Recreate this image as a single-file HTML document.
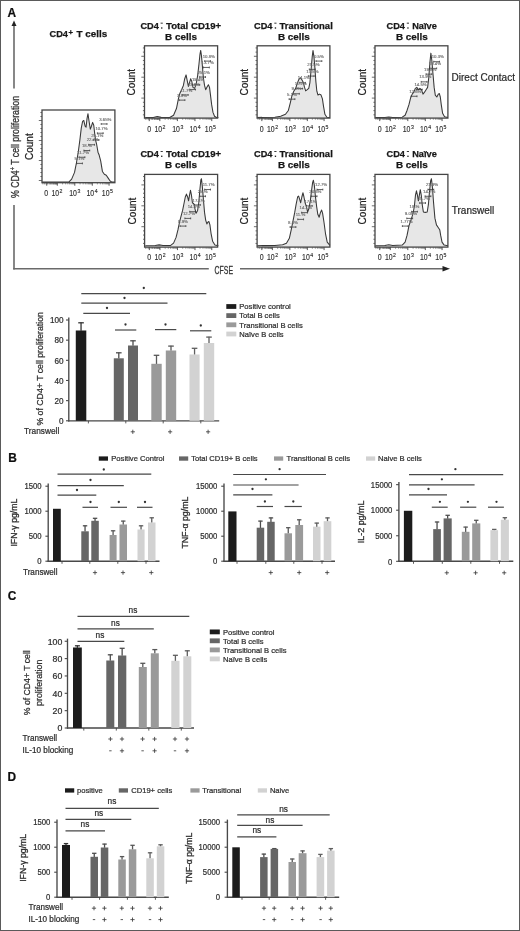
<!DOCTYPE html>
<html><head><meta charset="utf-8"><title>Figure</title>
<style>
html,body{margin:0;padding:0;background:#fff;}
body{width:520px;height:931px;overflow:hidden;font-family:"Liberation Sans",sans-serif;}
svg{display:block;font-family:"Liberation Sans",sans-serif;filter:grayscale(1);}
</style></head><body>
<svg width="520" height="931" viewBox="0 0 520 931">
<rect x="0" y="0" width="520" height="931" fill="#ffffff"/>
<defs><filter id="soft" x="0" y="0" width="520" height="931" filterUnits="userSpaceOnUse"><feGaussianBlur stdDeviation="0.32"/></filter></defs><g filter="url(#soft)">
<text x="7.6" y="17.2" font-size="11.9" text-anchor="start" font-weight="bold" fill="#111" stroke="#111" stroke-width="0.22">A</text>
<line x1="14" y1="25" x2="14" y2="88.6" stroke="#6a6a6a" stroke-width="1.6"/>
<line x1="14" y1="205" x2="14" y2="269.4" stroke="#6a6a6a" stroke-width="1.6"/>
<path d="M14 20.4 L16.5 26 L11.5 26 Z" fill="#222"/>
<text transform="translate(18.8,198) rotate(-90)" font-size="10.3" fill="#333" stroke="#333" stroke-width="0.3" textLength="102" lengthAdjust="spacingAndGlyphs">% CD4<tspan font-size="6.5" dy="-3.4">+</tspan><tspan dy="3.4"> T cell proliferation</tspan></text>
<line x1="13.2" y1="268.7" x2="208.8" y2="268.7" stroke="#6a6a6a" stroke-width="1.6"/>
<line x1="240" y1="268.7" x2="444" y2="268.7" stroke="#6a6a6a" stroke-width="1.6"/>
<path d="M450 268.8 L442.5 266.1 L442.5 271.5 Z" fill="#222"/>
<text x="214.6" y="274" font-size="10.4" fill="#333" stroke="#333" stroke-width="0.3" textLength="18.4" lengthAdjust="spacingAndGlyphs">CFSE</text>
<text x="49.5" y="37.3" font-size="9.9" font-weight="bold" fill="#161616" stroke="#161616" stroke-width="0.25" textLength="18.4" lengthAdjust="spacingAndGlyphs">CD4</text>
<text x="68.5" y="34.6" font-size="7.6" font-weight="bold" fill="#161616" stroke="#161616" stroke-width="0.25">+</text>
<text x="76.5" y="37.3" font-size="9.9" font-weight="bold" fill="#161616" stroke="#161616" stroke-width="0.25" textLength="30.7" lengthAdjust="spacingAndGlyphs">T cells</text>
<path d="M42.22 182.1 L68.76 182.1 L71.65 179.11 L74.53 172.38 L76.45 162.76 L78.38 151.22 L79.92 139.68 L81.26 128.15 L82.61 121.42 L83.76 120.45 L85.11 126.22 L86.07 127.18 L87.03 118.53 L87.99 113.72 L88.95 120.45 L90.3 129.11 L91.45 126.22 L92.61 122.38 L93.76 125.26 L94.72 133.92 L95.68 140.65 L96.65 144.49 L97.99 152.18 L99.15 155.07 L100.68 160.84 L102.42 171.42 L104.34 174.3 L106.26 175.26 L108.18 178.15 L110.11 181.03 L112.03 182.1 L114.92 182.1 L114.9 182.7 L42 182.7 Z" fill="#e7e7e7" stroke="none"/>
<path d="M42.22 182.1 L68.76 182.1 L71.65 179.11 L74.53 172.38 L76.45 162.76 L78.38 151.22 L79.92 139.68 L81.26 128.15 L82.61 121.42 L83.76 120.45 L85.11 126.22 L86.07 127.18 L87.03 118.53 L87.99 113.72 L88.95 120.45 L90.3 129.11 L91.45 126.22 L92.61 122.38 L93.76 125.26 L94.72 133.92 L95.68 140.65 L96.65 144.49 L97.99 152.18 L99.15 155.07 L100.68 160.84 L102.42 171.42 L104.34 174.3 L106.26 175.26 L108.18 178.15 L110.11 181.03 L112.03 182.1 L114.92 182.1" fill="none" stroke="#383838" stroke-width="1.05" stroke-linejoin="round"/>
<text x="99.23" y="120.58" font-size="4.3" fill="#6e6e6e" stroke="#6e6e6e" stroke-width="0.15">3.65%</text>
<line x1="101.23" y1="123.98" x2="107.03" y2="123.98" stroke="#3a3a3a" stroke-width="0.8"/>
<line x1="101.23" y1="123.08" x2="101.23" y2="124.88" stroke="#3a3a3a" stroke-width="0.8"/>
<line x1="107.03" y1="123.08" x2="107.03" y2="124.88" stroke="#3a3a3a" stroke-width="0.8"/>
<text x="95.38" y="129.81" font-size="4.3" fill="#6e6e6e" stroke="#6e6e6e" stroke-width="0.15">10.7%</text>
<line x1="97.38" y1="133.21" x2="103.18" y2="133.21" stroke="#3a3a3a" stroke-width="0.8"/>
<line x1="97.38" y1="132.31" x2="97.38" y2="134.11" stroke="#3a3a3a" stroke-width="0.8"/>
<line x1="103.18" y1="132.31" x2="103.18" y2="134.11" stroke="#3a3a3a" stroke-width="0.8"/>
<text x="91.15" y="136.54" font-size="4.3" fill="#6e6e6e" stroke="#6e6e6e" stroke-width="0.15">25.1%</text>
<line x1="93.15" y1="139.94" x2="98.95" y2="139.94" stroke="#3a3a3a" stroke-width="0.8"/>
<line x1="93.15" y1="139.04" x2="93.15" y2="140.84" stroke="#3a3a3a" stroke-width="0.8"/>
<line x1="98.95" y1="139.04" x2="98.95" y2="140.84" stroke="#3a3a3a" stroke-width="0.8"/>
<text x="86.73" y="141.35" font-size="4.3" fill="#6e6e6e" stroke="#6e6e6e" stroke-width="0.15">22.7%</text>
<line x1="88.73" y1="144.75" x2="94.53" y2="144.75" stroke="#3a3a3a" stroke-width="0.8"/>
<line x1="88.73" y1="143.85" x2="88.73" y2="145.65" stroke="#3a3a3a" stroke-width="0.8"/>
<line x1="94.53" y1="143.85" x2="94.53" y2="145.65" stroke="#3a3a3a" stroke-width="0.8"/>
<text x="81.92" y="147.12" font-size="4.3" fill="#6e6e6e" stroke="#6e6e6e" stroke-width="0.15">18.%</text>
<line x1="83.92" y1="150.52" x2="89.72" y2="150.52" stroke="#3a3a3a" stroke-width="0.8"/>
<line x1="83.92" y1="149.62" x2="83.92" y2="151.42" stroke="#3a3a3a" stroke-width="0.8"/>
<line x1="89.72" y1="149.62" x2="89.72" y2="151.42" stroke="#3a3a3a" stroke-width="0.8"/>
<text x="77.12" y="153.85" font-size="4.3" fill="#6e6e6e" stroke="#6e6e6e" stroke-width="0.15">11.7%</text>
<line x1="79.12" y1="157.25" x2="84.92" y2="157.25" stroke="#3a3a3a" stroke-width="0.8"/>
<line x1="79.12" y1="156.35" x2="79.12" y2="158.15" stroke="#3a3a3a" stroke-width="0.8"/>
<line x1="84.92" y1="156.35" x2="84.92" y2="158.15" stroke="#3a3a3a" stroke-width="0.8"/>
<text x="74.62" y="160" font-size="4.3" fill="#6e6e6e" stroke="#6e6e6e" stroke-width="0.15">5.1%</text>
<line x1="76.62" y1="163.4" x2="82.42" y2="163.4" stroke="#3a3a3a" stroke-width="0.8"/>
<line x1="76.62" y1="162.5" x2="76.62" y2="164.3" stroke="#3a3a3a" stroke-width="0.8"/>
<line x1="82.42" y1="162.5" x2="82.42" y2="164.3" stroke="#3a3a3a" stroke-width="0.8"/>
<rect x="42" y="110" width="72.9" height="72.7" fill="none" stroke="#454545" stroke-width="1.3"/>
<line x1="40.4" y1="112.5" x2="42" y2="112.5" stroke="#4a4a4a" stroke-width="0.8"/>
<line x1="40.4" y1="116.5" x2="42" y2="116.5" stroke="#4a4a4a" stroke-width="0.8"/>
<line x1="38.8" y1="120.5" x2="42" y2="120.5" stroke="#4a4a4a" stroke-width="0.8"/>
<line x1="40.4" y1="124.5" x2="42" y2="124.5" stroke="#4a4a4a" stroke-width="0.8"/>
<line x1="40.4" y1="128.5" x2="42" y2="128.5" stroke="#4a4a4a" stroke-width="0.8"/>
<line x1="40.4" y1="132.5" x2="42" y2="132.5" stroke="#4a4a4a" stroke-width="0.8"/>
<line x1="40.4" y1="136.5" x2="42" y2="136.5" stroke="#4a4a4a" stroke-width="0.8"/>
<line x1="38.8" y1="140.5" x2="42" y2="140.5" stroke="#4a4a4a" stroke-width="0.8"/>
<line x1="40.4" y1="144.5" x2="42" y2="144.5" stroke="#4a4a4a" stroke-width="0.8"/>
<line x1="40.4" y1="148.5" x2="42" y2="148.5" stroke="#4a4a4a" stroke-width="0.8"/>
<line x1="40.4" y1="152.5" x2="42" y2="152.5" stroke="#4a4a4a" stroke-width="0.8"/>
<line x1="40.4" y1="156.5" x2="42" y2="156.5" stroke="#4a4a4a" stroke-width="0.8"/>
<line x1="38.8" y1="160.5" x2="42" y2="160.5" stroke="#4a4a4a" stroke-width="0.8"/>
<line x1="40.4" y1="164.5" x2="42" y2="164.5" stroke="#4a4a4a" stroke-width="0.8"/>
<line x1="40.4" y1="168.5" x2="42" y2="168.5" stroke="#4a4a4a" stroke-width="0.8"/>
<line x1="40.4" y1="172.5" x2="42" y2="172.5" stroke="#4a4a4a" stroke-width="0.8"/>
<line x1="40.4" y1="176.5" x2="42" y2="176.5" stroke="#4a4a4a" stroke-width="0.8"/>
<line x1="38.8" y1="180.5" x2="42" y2="180.5" stroke="#4a4a4a" stroke-width="0.8"/>
<line x1="46.74" y1="182.7" x2="46.74" y2="185.7" stroke="#444" stroke-width="0.9"/>
<line x1="57.31" y1="182.7" x2="57.31" y2="185.7" stroke="#444" stroke-width="0.9"/>
<line x1="74.81" y1="182.7" x2="74.81" y2="185.7" stroke="#444" stroke-width="0.9"/>
<line x1="92.3" y1="182.7" x2="92.3" y2="185.7" stroke="#444" stroke-width="0.9"/>
<line x1="109.07" y1="182.7" x2="109.07" y2="185.7" stroke="#444" stroke-width="0.9"/>
<line x1="49.92" y1="182.7" x2="49.92" y2="184.4" stroke="#505050" stroke-width="0.6"/>
<line x1="51.78" y1="182.7" x2="51.78" y2="184.4" stroke="#505050" stroke-width="0.6"/>
<line x1="53.1" y1="182.7" x2="53.1" y2="184.4" stroke="#505050" stroke-width="0.6"/>
<line x1="54.13" y1="182.7" x2="54.13" y2="184.4" stroke="#505050" stroke-width="0.6"/>
<line x1="54.96" y1="182.7" x2="54.96" y2="184.4" stroke="#505050" stroke-width="0.6"/>
<line x1="55.67" y1="182.7" x2="55.67" y2="184.4" stroke="#505050" stroke-width="0.6"/>
<line x1="56.28" y1="182.7" x2="56.28" y2="184.4" stroke="#505050" stroke-width="0.6"/>
<line x1="56.83" y1="182.7" x2="56.83" y2="184.4" stroke="#505050" stroke-width="0.6"/>
<line x1="62.58" y1="182.7" x2="62.58" y2="184.4" stroke="#505050" stroke-width="0.6"/>
<line x1="65.66" y1="182.7" x2="65.66" y2="184.4" stroke="#505050" stroke-width="0.6"/>
<line x1="67.84" y1="182.7" x2="67.84" y2="184.4" stroke="#505050" stroke-width="0.6"/>
<line x1="69.54" y1="182.7" x2="69.54" y2="184.4" stroke="#505050" stroke-width="0.6"/>
<line x1="70.92" y1="182.7" x2="70.92" y2="184.4" stroke="#505050" stroke-width="0.6"/>
<line x1="72.09" y1="182.7" x2="72.09" y2="184.4" stroke="#505050" stroke-width="0.6"/>
<line x1="73.11" y1="182.7" x2="73.11" y2="184.4" stroke="#505050" stroke-width="0.6"/>
<line x1="74" y1="182.7" x2="74" y2="184.4" stroke="#505050" stroke-width="0.6"/>
<line x1="80.07" y1="182.7" x2="80.07" y2="184.4" stroke="#505050" stroke-width="0.6"/>
<line x1="83.15" y1="182.7" x2="83.15" y2="184.4" stroke="#505050" stroke-width="0.6"/>
<line x1="85.34" y1="182.7" x2="85.34" y2="184.4" stroke="#505050" stroke-width="0.6"/>
<line x1="87.03" y1="182.7" x2="87.03" y2="184.4" stroke="#505050" stroke-width="0.6"/>
<line x1="88.42" y1="182.7" x2="88.42" y2="184.4" stroke="#505050" stroke-width="0.6"/>
<line x1="89.59" y1="182.7" x2="89.59" y2="184.4" stroke="#505050" stroke-width="0.6"/>
<line x1="90.61" y1="182.7" x2="90.61" y2="184.4" stroke="#505050" stroke-width="0.6"/>
<line x1="91.5" y1="182.7" x2="91.5" y2="184.4" stroke="#505050" stroke-width="0.6"/>
<line x1="97.35" y1="182.7" x2="97.35" y2="184.4" stroke="#505050" stroke-width="0.6"/>
<line x1="100.3" y1="182.7" x2="100.3" y2="184.4" stroke="#505050" stroke-width="0.6"/>
<line x1="102.4" y1="182.7" x2="102.4" y2="184.4" stroke="#505050" stroke-width="0.6"/>
<line x1="104.02" y1="182.7" x2="104.02" y2="184.4" stroke="#505050" stroke-width="0.6"/>
<line x1="105.35" y1="182.7" x2="105.35" y2="184.4" stroke="#505050" stroke-width="0.6"/>
<line x1="106.47" y1="182.7" x2="106.47" y2="184.4" stroke="#505050" stroke-width="0.6"/>
<line x1="107.44" y1="182.7" x2="107.44" y2="184.4" stroke="#505050" stroke-width="0.6"/>
<line x1="108.3" y1="182.7" x2="108.3" y2="184.4" stroke="#505050" stroke-width="0.6"/>
<line x1="42.87" y1="182.7" x2="42.87" y2="184.4" stroke="#505050" stroke-width="0.6"/>
<line x1="44.41" y1="182.7" x2="44.41" y2="184.4" stroke="#505050" stroke-width="0.6"/>
<line x1="45.94" y1="182.7" x2="45.94" y2="184.4" stroke="#505050" stroke-width="0.6"/>
<line x1="47.47" y1="182.7" x2="47.47" y2="184.4" stroke="#505050" stroke-width="0.6"/>
<line x1="49" y1="182.7" x2="49" y2="184.4" stroke="#505050" stroke-width="0.6"/>
<line x1="50.53" y1="182.7" x2="50.53" y2="184.4" stroke="#505050" stroke-width="0.6"/>
<line x1="52.06" y1="182.7" x2="52.06" y2="184.4" stroke="#505050" stroke-width="0.6"/>
<line x1="53.59" y1="182.7" x2="53.59" y2="184.4" stroke="#505050" stroke-width="0.6"/>
<line x1="55.12" y1="182.7" x2="55.12" y2="184.4" stroke="#505050" stroke-width="0.6"/>
<line x1="56.65" y1="182.7" x2="56.65" y2="184.4" stroke="#505050" stroke-width="0.6"/>
<text x="46.2" y="195.9" font-size="8.4" fill="#303030" stroke="#303030" stroke-width="0.15" text-anchor="middle" textLength="3.9" lengthAdjust="spacingAndGlyphs">0</text>
<text x="51.4" y="195.9" font-size="8.4" fill="#303030" stroke="#303030" stroke-width="0.15" textLength="7.7" lengthAdjust="spacingAndGlyphs">10</text>
<text x="59.6" y="192.6" font-size="5.6" fill="#303030" stroke="#303030" stroke-width="0.15" textLength="2.9" lengthAdjust="spacingAndGlyphs">2</text>
<text x="69.2" y="195.9" font-size="8.4" fill="#303030" stroke="#303030" stroke-width="0.15" textLength="7.7" lengthAdjust="spacingAndGlyphs">10</text>
<text x="77.4" y="192.6" font-size="5.6" fill="#303030" stroke="#303030" stroke-width="0.15" textLength="2.9" lengthAdjust="spacingAndGlyphs">3</text>
<text x="86.5" y="195.9" font-size="8.4" fill="#303030" stroke="#303030" stroke-width="0.15" textLength="7.7" lengthAdjust="spacingAndGlyphs">10</text>
<text x="94.7" y="192.6" font-size="5.6" fill="#303030" stroke="#303030" stroke-width="0.15" textLength="2.9" lengthAdjust="spacingAndGlyphs">4</text>
<text x="101.8" y="195.9" font-size="8.4" fill="#303030" stroke="#303030" stroke-width="0.15" textLength="7.7" lengthAdjust="spacingAndGlyphs">10</text>
<text x="110" y="192.6" font-size="5.6" fill="#303030" stroke="#303030" stroke-width="0.15" textLength="2.9" lengthAdjust="spacingAndGlyphs">5</text>
<text x="0" y="0" transform="translate(32.9,146.65) rotate(-90)" font-size="10" text-anchor="middle" font-weight="normal" fill="#222" stroke="#222" stroke-width="0.22">Count</text>
<path d="M145.3 117.5 L153.38 117.5 L157.22 116.61 L161.07 117.38 L169.72 117.5 L173.57 115.26 L176.45 108.53 L178.38 98.92 L179.92 93.15 L181.84 89.3 L183.38 85.45 L184.72 78.72 L186.07 74.88 L187.22 80.65 L188.38 86.42 L189.53 82.57 L190.68 78.72 L191.84 81.61 L192.99 87.38 L194.53 88.34 L196.07 84.49 L197.61 75.84 L198.95 64.3 L199.92 54.68 L200.68 50.45 L201.45 55.65 L202.42 66.22 L203.38 77.76 L204.53 85.45 L205.68 89.68 L207.03 86.99 L208.38 84.68 L209.53 87.38 L210.49 95.07 L211.65 104.68 L212.99 112.38 L214.53 116.22 L216.45 117.5 L218.38 117.5 L217.6 118.1 L144.5 118.1 Z" fill="#e7e7e7" stroke="none"/>
<path d="M145.3 117.5 L153.38 117.5 L157.22 116.61 L161.07 117.38 L169.72 117.5 L173.57 115.26 L176.45 108.53 L178.38 98.92 L179.92 93.15 L181.84 89.3 L183.38 85.45 L184.72 78.72 L186.07 74.88 L187.22 80.65 L188.38 86.42 L189.53 82.57 L190.68 78.72 L191.84 81.61 L192.99 87.38 L194.53 88.34 L196.07 84.49 L197.61 75.84 L198.95 64.3 L199.92 54.68 L200.68 50.45 L201.45 55.65 L202.42 66.22 L203.38 77.76 L204.53 85.45 L205.68 89.68 L207.03 86.99 L208.38 84.68 L209.53 87.38 L210.49 95.07 L211.65 104.68 L212.99 112.38 L214.53 116.22 L216.45 117.5 L218.38 117.5" fill="none" stroke="#383838" stroke-width="1.05" stroke-linejoin="round"/>
<text x="202.69" y="57.69" font-size="4.3" fill="#6e6e6e" stroke="#6e6e6e" stroke-width="0.15">10.8%</text>
<line x1="204.69" y1="61.09" x2="210.49" y2="61.09" stroke="#3a3a3a" stroke-width="0.8"/>
<line x1="204.69" y1="60.19" x2="204.69" y2="61.99" stroke="#3a3a3a" stroke-width="0.8"/>
<line x1="210.49" y1="60.19" x2="210.49" y2="61.99" stroke="#3a3a3a" stroke-width="0.8"/>
<text x="201.54" y="64.04" font-size="4.3" fill="#6e6e6e" stroke="#6e6e6e" stroke-width="0.15">13.7%</text>
<line x1="203.54" y1="67.44" x2="209.34" y2="67.44" stroke="#3a3a3a" stroke-width="0.8"/>
<line x1="203.54" y1="66.54" x2="203.54" y2="68.34" stroke="#3a3a3a" stroke-width="0.8"/>
<line x1="209.34" y1="66.54" x2="209.34" y2="68.34" stroke="#3a3a3a" stroke-width="0.8"/>
<text x="197.69" y="73.65" font-size="4.3" fill="#6e6e6e" stroke="#6e6e6e" stroke-width="0.15">25.1%</text>
<line x1="199.69" y1="77.05" x2="205.49" y2="77.05" stroke="#3a3a3a" stroke-width="0.8"/>
<line x1="199.69" y1="76.15" x2="199.69" y2="77.95" stroke="#3a3a3a" stroke-width="0.8"/>
<line x1="205.49" y1="76.15" x2="205.49" y2="77.95" stroke="#3a3a3a" stroke-width="0.8"/>
<text x="191.92" y="81.35" font-size="4.3" fill="#6e6e6e" stroke="#6e6e6e" stroke-width="0.15">19.4%</text>
<line x1="193.92" y1="84.75" x2="199.72" y2="84.75" stroke="#3a3a3a" stroke-width="0.8"/>
<line x1="193.92" y1="83.85" x2="193.92" y2="85.65" stroke="#3a3a3a" stroke-width="0.8"/>
<line x1="199.72" y1="83.85" x2="199.72" y2="85.65" stroke="#3a3a3a" stroke-width="0.8"/>
<text x="187.69" y="86.15" font-size="4.3" fill="#6e6e6e" stroke="#6e6e6e" stroke-width="0.15">13.9%</text>
<line x1="189.69" y1="89.55" x2="195.49" y2="89.55" stroke="#3a3a3a" stroke-width="0.8"/>
<line x1="189.69" y1="88.65" x2="189.69" y2="90.45" stroke="#3a3a3a" stroke-width="0.8"/>
<line x1="195.49" y1="88.65" x2="195.49" y2="90.45" stroke="#3a3a3a" stroke-width="0.8"/>
<text x="180.38" y="91.54" font-size="4.3" fill="#6e6e6e" stroke="#6e6e6e" stroke-width="0.15">11.7%</text>
<line x1="182.38" y1="94.94" x2="188.18" y2="94.94" stroke="#3a3a3a" stroke-width="0.8"/>
<line x1="182.38" y1="94.04" x2="182.38" y2="95.84" stroke="#3a3a3a" stroke-width="0.8"/>
<line x1="188.18" y1="94.04" x2="188.18" y2="95.84" stroke="#3a3a3a" stroke-width="0.8"/>
<text x="177.12" y="96.73" font-size="4.3" fill="#6e6e6e" stroke="#6e6e6e" stroke-width="0.15">3.8%</text>
<line x1="179.12" y1="100.13" x2="184.92" y2="100.13" stroke="#3a3a3a" stroke-width="0.8"/>
<line x1="179.12" y1="99.23" x2="179.12" y2="101.03" stroke="#3a3a3a" stroke-width="0.8"/>
<line x1="184.92" y1="99.23" x2="184.92" y2="101.03" stroke="#3a3a3a" stroke-width="0.8"/>
<rect x="144.5" y="45.8" width="73.1" height="72.3" fill="none" stroke="#454545" stroke-width="1.3"/>
<line x1="142.9" y1="47.94" x2="144.5" y2="47.94" stroke="#4a4a4a" stroke-width="0.8"/>
<line x1="142.9" y1="52.12" x2="144.5" y2="52.12" stroke="#4a4a4a" stroke-width="0.8"/>
<line x1="141.3" y1="56.3" x2="144.5" y2="56.3" stroke="#4a4a4a" stroke-width="0.8"/>
<line x1="142.9" y1="60.48" x2="144.5" y2="60.48" stroke="#4a4a4a" stroke-width="0.8"/>
<line x1="142.9" y1="64.66" x2="144.5" y2="64.66" stroke="#4a4a4a" stroke-width="0.8"/>
<line x1="142.9" y1="68.84" x2="144.5" y2="68.84" stroke="#4a4a4a" stroke-width="0.8"/>
<line x1="142.9" y1="73.02" x2="144.5" y2="73.02" stroke="#4a4a4a" stroke-width="0.8"/>
<line x1="141.3" y1="77.2" x2="144.5" y2="77.2" stroke="#4a4a4a" stroke-width="0.8"/>
<line x1="142.9" y1="81.38" x2="144.5" y2="81.38" stroke="#4a4a4a" stroke-width="0.8"/>
<line x1="142.9" y1="85.56" x2="144.5" y2="85.56" stroke="#4a4a4a" stroke-width="0.8"/>
<line x1="142.9" y1="89.74" x2="144.5" y2="89.74" stroke="#4a4a4a" stroke-width="0.8"/>
<line x1="142.9" y1="93.92" x2="144.5" y2="93.92" stroke="#4a4a4a" stroke-width="0.8"/>
<line x1="141.3" y1="98.1" x2="144.5" y2="98.1" stroke="#4a4a4a" stroke-width="0.8"/>
<line x1="142.9" y1="102.28" x2="144.5" y2="102.28" stroke="#4a4a4a" stroke-width="0.8"/>
<line x1="142.9" y1="106.46" x2="144.5" y2="106.46" stroke="#4a4a4a" stroke-width="0.8"/>
<line x1="142.9" y1="110.64" x2="144.5" y2="110.64" stroke="#4a4a4a" stroke-width="0.8"/>
<line x1="142.9" y1="114.82" x2="144.5" y2="114.82" stroke="#4a4a4a" stroke-width="0.8"/>
<line x1="149.25" y1="118.1" x2="149.25" y2="121.1" stroke="#444" stroke-width="0.9"/>
<line x1="159.85" y1="118.1" x2="159.85" y2="121.1" stroke="#444" stroke-width="0.9"/>
<line x1="177.39" y1="118.1" x2="177.39" y2="121.1" stroke="#444" stroke-width="0.9"/>
<line x1="194.94" y1="118.1" x2="194.94" y2="121.1" stroke="#444" stroke-width="0.9"/>
<line x1="211.75" y1="118.1" x2="211.75" y2="121.1" stroke="#444" stroke-width="0.9"/>
<line x1="152.44" y1="118.1" x2="152.44" y2="119.8" stroke="#505050" stroke-width="0.6"/>
<line x1="154.31" y1="118.1" x2="154.31" y2="119.8" stroke="#505050" stroke-width="0.6"/>
<line x1="155.63" y1="118.1" x2="155.63" y2="119.8" stroke="#505050" stroke-width="0.6"/>
<line x1="156.66" y1="118.1" x2="156.66" y2="119.8" stroke="#505050" stroke-width="0.6"/>
<line x1="157.5" y1="118.1" x2="157.5" y2="119.8" stroke="#505050" stroke-width="0.6"/>
<line x1="158.21" y1="118.1" x2="158.21" y2="119.8" stroke="#505050" stroke-width="0.6"/>
<line x1="158.82" y1="118.1" x2="158.82" y2="119.8" stroke="#505050" stroke-width="0.6"/>
<line x1="159.37" y1="118.1" x2="159.37" y2="119.8" stroke="#505050" stroke-width="0.6"/>
<line x1="165.13" y1="118.1" x2="165.13" y2="119.8" stroke="#505050" stroke-width="0.6"/>
<line x1="168.22" y1="118.1" x2="168.22" y2="119.8" stroke="#505050" stroke-width="0.6"/>
<line x1="170.41" y1="118.1" x2="170.41" y2="119.8" stroke="#505050" stroke-width="0.6"/>
<line x1="172.11" y1="118.1" x2="172.11" y2="119.8" stroke="#505050" stroke-width="0.6"/>
<line x1="173.5" y1="118.1" x2="173.5" y2="119.8" stroke="#505050" stroke-width="0.6"/>
<line x1="174.68" y1="118.1" x2="174.68" y2="119.8" stroke="#505050" stroke-width="0.6"/>
<line x1="175.69" y1="118.1" x2="175.69" y2="119.8" stroke="#505050" stroke-width="0.6"/>
<line x1="176.59" y1="118.1" x2="176.59" y2="119.8" stroke="#505050" stroke-width="0.6"/>
<line x1="182.68" y1="118.1" x2="182.68" y2="119.8" stroke="#505050" stroke-width="0.6"/>
<line x1="185.77" y1="118.1" x2="185.77" y2="119.8" stroke="#505050" stroke-width="0.6"/>
<line x1="187.96" y1="118.1" x2="187.96" y2="119.8" stroke="#505050" stroke-width="0.6"/>
<line x1="189.66" y1="118.1" x2="189.66" y2="119.8" stroke="#505050" stroke-width="0.6"/>
<line x1="191.05" y1="118.1" x2="191.05" y2="119.8" stroke="#505050" stroke-width="0.6"/>
<line x1="192.22" y1="118.1" x2="192.22" y2="119.8" stroke="#505050" stroke-width="0.6"/>
<line x1="193.24" y1="118.1" x2="193.24" y2="119.8" stroke="#505050" stroke-width="0.6"/>
<line x1="194.14" y1="118.1" x2="194.14" y2="119.8" stroke="#505050" stroke-width="0.6"/>
<line x1="200" y1="118.1" x2="200" y2="119.8" stroke="#505050" stroke-width="0.6"/>
<line x1="202.96" y1="118.1" x2="202.96" y2="119.8" stroke="#505050" stroke-width="0.6"/>
<line x1="205.06" y1="118.1" x2="205.06" y2="119.8" stroke="#505050" stroke-width="0.6"/>
<line x1="206.69" y1="118.1" x2="206.69" y2="119.8" stroke="#505050" stroke-width="0.6"/>
<line x1="208.02" y1="118.1" x2="208.02" y2="119.8" stroke="#505050" stroke-width="0.6"/>
<line x1="209.15" y1="118.1" x2="209.15" y2="119.8" stroke="#505050" stroke-width="0.6"/>
<line x1="210.12" y1="118.1" x2="210.12" y2="119.8" stroke="#505050" stroke-width="0.6"/>
<line x1="210.98" y1="118.1" x2="210.98" y2="119.8" stroke="#505050" stroke-width="0.6"/>
<line x1="145.38" y1="118.1" x2="145.38" y2="119.8" stroke="#505050" stroke-width="0.6"/>
<line x1="146.91" y1="118.1" x2="146.91" y2="119.8" stroke="#505050" stroke-width="0.6"/>
<line x1="148.45" y1="118.1" x2="148.45" y2="119.8" stroke="#505050" stroke-width="0.6"/>
<line x1="149.98" y1="118.1" x2="149.98" y2="119.8" stroke="#505050" stroke-width="0.6"/>
<line x1="151.52" y1="118.1" x2="151.52" y2="119.8" stroke="#505050" stroke-width="0.6"/>
<line x1="153.05" y1="118.1" x2="153.05" y2="119.8" stroke="#505050" stroke-width="0.6"/>
<line x1="154.59" y1="118.1" x2="154.59" y2="119.8" stroke="#505050" stroke-width="0.6"/>
<line x1="156.12" y1="118.1" x2="156.12" y2="119.8" stroke="#505050" stroke-width="0.6"/>
<line x1="157.66" y1="118.1" x2="157.66" y2="119.8" stroke="#505050" stroke-width="0.6"/>
<line x1="159.19" y1="118.1" x2="159.19" y2="119.8" stroke="#505050" stroke-width="0.6"/>
<text x="149.2" y="132.2" font-size="8.4" fill="#303030" stroke="#303030" stroke-width="0.15" text-anchor="middle" textLength="3.9" lengthAdjust="spacingAndGlyphs">0</text>
<text x="154.4" y="132.2" font-size="8.4" fill="#303030" stroke="#303030" stroke-width="0.15" textLength="7.7" lengthAdjust="spacingAndGlyphs">10</text>
<text x="162.6" y="128.9" font-size="5.6" fill="#303030" stroke="#303030" stroke-width="0.15" textLength="2.9" lengthAdjust="spacingAndGlyphs">2</text>
<text x="172.2" y="132.2" font-size="8.4" fill="#303030" stroke="#303030" stroke-width="0.15" textLength="7.7" lengthAdjust="spacingAndGlyphs">10</text>
<text x="180.4" y="128.9" font-size="5.6" fill="#303030" stroke="#303030" stroke-width="0.15" textLength="2.9" lengthAdjust="spacingAndGlyphs">3</text>
<text x="189.5" y="132.2" font-size="8.4" fill="#303030" stroke="#303030" stroke-width="0.15" textLength="7.7" lengthAdjust="spacingAndGlyphs">10</text>
<text x="197.7" y="128.9" font-size="5.6" fill="#303030" stroke="#303030" stroke-width="0.15" textLength="2.9" lengthAdjust="spacingAndGlyphs">4</text>
<text x="204.8" y="132.2" font-size="8.4" fill="#303030" stroke="#303030" stroke-width="0.15" textLength="7.7" lengthAdjust="spacingAndGlyphs">10</text>
<text x="213" y="128.9" font-size="5.6" fill="#303030" stroke="#303030" stroke-width="0.15" textLength="2.9" lengthAdjust="spacingAndGlyphs">5</text>
<text x="0" y="0" transform="translate(135.4,82.25) rotate(-90)" font-size="10" text-anchor="middle" font-weight="normal" fill="#222" stroke="#222" stroke-width="0.22">Count</text>
<path d="M257.22 117.5 L274.92 117.18 L280.68 116.22 L285.49 114.3 L288.38 110.45 L290.3 102.76 L291.84 96.03 L293.76 91.22 L295.68 88.34 L297.22 83.53 L298.76 79.68 L300.3 77.76 L301.84 79.68 L303.38 82.57 L304.53 87.38 L305.68 90.84 L307.22 89.68 L308.76 88.34 L309.92 82.57 L311.07 70.07 L312.22 56.61 L312.99 50.45 L313.95 56.61 L314.92 68.15 L315.88 81.61 L316.84 91.22 L317.99 95.07 L319.53 94.11 L321.07 95.07 L322.42 98.92 L323.57 106.61 L324.92 114.3 L326.84 117.18 L329.92 117.5 L329.9 118.1 L257.1 118.1 Z" fill="#e7e7e7" stroke="none"/>
<path d="M257.22 117.5 L274.92 117.18 L280.68 116.22 L285.49 114.3 L288.38 110.45 L290.3 102.76 L291.84 96.03 L293.76 91.22 L295.68 88.34 L297.22 83.53 L298.76 79.68 L300.3 77.76 L301.84 79.68 L303.38 82.57 L304.53 87.38 L305.68 90.84 L307.22 89.68 L308.76 88.34 L309.92 82.57 L311.07 70.07 L312.22 56.61 L312.99 50.45 L313.95 56.61 L314.92 68.15 L315.88 81.61 L316.84 91.22 L317.99 95.07 L319.53 94.11 L321.07 95.07 L322.42 98.92 L323.57 106.61 L324.92 114.3 L326.84 117.18 L329.92 117.5" fill="none" stroke="#383838" stroke-width="1.05" stroke-linejoin="round"/>
<text x="314.04" y="57.69" font-size="4.3" fill="#6e6e6e" stroke="#6e6e6e" stroke-width="0.15">0.5%</text>
<line x1="316.04" y1="61.09" x2="321.84" y2="61.09" stroke="#3a3a3a" stroke-width="0.8"/>
<line x1="316.04" y1="60.19" x2="316.04" y2="61.99" stroke="#3a3a3a" stroke-width="0.8"/>
<line x1="321.84" y1="60.19" x2="321.84" y2="61.99" stroke="#3a3a3a" stroke-width="0.8"/>
<text x="307.31" y="65.96" font-size="4.3" fill="#6e6e6e" stroke="#6e6e6e" stroke-width="0.15">25.5%</text>
<line x1="309.31" y1="69.36" x2="315.11" y2="69.36" stroke="#3a3a3a" stroke-width="0.8"/>
<line x1="309.31" y1="68.46" x2="309.31" y2="70.26" stroke="#3a3a3a" stroke-width="0.8"/>
<line x1="315.11" y1="68.46" x2="315.11" y2="70.26" stroke="#3a3a3a" stroke-width="0.8"/>
<text x="306.35" y="72.69" font-size="4.3" fill="#6e6e6e" stroke="#6e6e6e" stroke-width="0.15">13.5%</text>
<line x1="308.35" y1="76.09" x2="314.15" y2="76.09" stroke="#3a3a3a" stroke-width="0.8"/>
<line x1="308.35" y1="75.19" x2="308.35" y2="76.99" stroke="#3a3a3a" stroke-width="0.8"/>
<line x1="314.15" y1="75.19" x2="314.15" y2="76.99" stroke="#3a3a3a" stroke-width="0.8"/>
<text x="297.69" y="79.42" font-size="4.3" fill="#6e6e6e" stroke="#6e6e6e" stroke-width="0.15">14.1%</text>
<line x1="299.69" y1="82.82" x2="305.49" y2="82.82" stroke="#3a3a3a" stroke-width="0.8"/>
<line x1="299.69" y1="81.92" x2="299.69" y2="83.72" stroke="#3a3a3a" stroke-width="0.8"/>
<line x1="305.49" y1="81.92" x2="305.49" y2="83.72" stroke="#3a3a3a" stroke-width="0.8"/>
<text x="294.81" y="85.19" font-size="4.3" fill="#6e6e6e" stroke="#6e6e6e" stroke-width="0.15">11.2%</text>
<line x1="296.81" y1="88.59" x2="302.61" y2="88.59" stroke="#3a3a3a" stroke-width="0.8"/>
<line x1="296.81" y1="87.69" x2="296.81" y2="89.49" stroke="#3a3a3a" stroke-width="0.8"/>
<line x1="302.61" y1="87.69" x2="302.61" y2="89.49" stroke="#3a3a3a" stroke-width="0.8"/>
<text x="291.54" y="90.38" font-size="4.3" fill="#6e6e6e" stroke="#6e6e6e" stroke-width="0.15">9.2%</text>
<line x1="293.54" y1="93.78" x2="299.34" y2="93.78" stroke="#3a3a3a" stroke-width="0.8"/>
<line x1="293.54" y1="92.88" x2="293.54" y2="94.68" stroke="#3a3a3a" stroke-width="0.8"/>
<line x1="299.34" y1="92.88" x2="299.34" y2="94.68" stroke="#3a3a3a" stroke-width="0.8"/>
<text x="287.12" y="95.77" font-size="4.3" fill="#6e6e6e" stroke="#6e6e6e" stroke-width="0.15">5.1%</text>
<line x1="289.12" y1="99.17" x2="294.92" y2="99.17" stroke="#3a3a3a" stroke-width="0.8"/>
<line x1="289.12" y1="98.27" x2="289.12" y2="100.07" stroke="#3a3a3a" stroke-width="0.8"/>
<line x1="294.92" y1="98.27" x2="294.92" y2="100.07" stroke="#3a3a3a" stroke-width="0.8"/>
<rect x="257.1" y="45.8" width="72.8" height="72.3" fill="none" stroke="#454545" stroke-width="1.3"/>
<line x1="255.5" y1="47.94" x2="257.1" y2="47.94" stroke="#4a4a4a" stroke-width="0.8"/>
<line x1="255.5" y1="52.12" x2="257.1" y2="52.12" stroke="#4a4a4a" stroke-width="0.8"/>
<line x1="253.9" y1="56.3" x2="257.1" y2="56.3" stroke="#4a4a4a" stroke-width="0.8"/>
<line x1="255.5" y1="60.48" x2="257.1" y2="60.48" stroke="#4a4a4a" stroke-width="0.8"/>
<line x1="255.5" y1="64.66" x2="257.1" y2="64.66" stroke="#4a4a4a" stroke-width="0.8"/>
<line x1="255.5" y1="68.84" x2="257.1" y2="68.84" stroke="#4a4a4a" stroke-width="0.8"/>
<line x1="255.5" y1="73.02" x2="257.1" y2="73.02" stroke="#4a4a4a" stroke-width="0.8"/>
<line x1="253.9" y1="77.2" x2="257.1" y2="77.2" stroke="#4a4a4a" stroke-width="0.8"/>
<line x1="255.5" y1="81.38" x2="257.1" y2="81.38" stroke="#4a4a4a" stroke-width="0.8"/>
<line x1="255.5" y1="85.56" x2="257.1" y2="85.56" stroke="#4a4a4a" stroke-width="0.8"/>
<line x1="255.5" y1="89.74" x2="257.1" y2="89.74" stroke="#4a4a4a" stroke-width="0.8"/>
<line x1="255.5" y1="93.92" x2="257.1" y2="93.92" stroke="#4a4a4a" stroke-width="0.8"/>
<line x1="253.9" y1="98.1" x2="257.1" y2="98.1" stroke="#4a4a4a" stroke-width="0.8"/>
<line x1="255.5" y1="102.28" x2="257.1" y2="102.28" stroke="#4a4a4a" stroke-width="0.8"/>
<line x1="255.5" y1="106.46" x2="257.1" y2="106.46" stroke="#4a4a4a" stroke-width="0.8"/>
<line x1="255.5" y1="110.64" x2="257.1" y2="110.64" stroke="#4a4a4a" stroke-width="0.8"/>
<line x1="255.5" y1="114.82" x2="257.1" y2="114.82" stroke="#4a4a4a" stroke-width="0.8"/>
<line x1="261.83" y1="118.1" x2="261.83" y2="121.1" stroke="#444" stroke-width="0.9"/>
<line x1="272.39" y1="118.1" x2="272.39" y2="121.1" stroke="#444" stroke-width="0.9"/>
<line x1="289.86" y1="118.1" x2="289.86" y2="121.1" stroke="#444" stroke-width="0.9"/>
<line x1="307.33" y1="118.1" x2="307.33" y2="121.1" stroke="#444" stroke-width="0.9"/>
<line x1="324.08" y1="118.1" x2="324.08" y2="121.1" stroke="#444" stroke-width="0.9"/>
<line x1="265.01" y1="118.1" x2="265.01" y2="119.8" stroke="#505050" stroke-width="0.6"/>
<line x1="266.87" y1="118.1" x2="266.87" y2="119.8" stroke="#505050" stroke-width="0.6"/>
<line x1="268.19" y1="118.1" x2="268.19" y2="119.8" stroke="#505050" stroke-width="0.6"/>
<line x1="269.21" y1="118.1" x2="269.21" y2="119.8" stroke="#505050" stroke-width="0.6"/>
<line x1="270.05" y1="118.1" x2="270.05" y2="119.8" stroke="#505050" stroke-width="0.6"/>
<line x1="270.75" y1="118.1" x2="270.75" y2="119.8" stroke="#505050" stroke-width="0.6"/>
<line x1="271.37" y1="118.1" x2="271.37" y2="119.8" stroke="#505050" stroke-width="0.6"/>
<line x1="271.9" y1="118.1" x2="271.9" y2="119.8" stroke="#505050" stroke-width="0.6"/>
<line x1="277.65" y1="118.1" x2="277.65" y2="119.8" stroke="#505050" stroke-width="0.6"/>
<line x1="280.72" y1="118.1" x2="280.72" y2="119.8" stroke="#505050" stroke-width="0.6"/>
<line x1="282.91" y1="118.1" x2="282.91" y2="119.8" stroke="#505050" stroke-width="0.6"/>
<line x1="284.6" y1="118.1" x2="284.6" y2="119.8" stroke="#505050" stroke-width="0.6"/>
<line x1="285.98" y1="118.1" x2="285.98" y2="119.8" stroke="#505050" stroke-width="0.6"/>
<line x1="287.15" y1="118.1" x2="287.15" y2="119.8" stroke="#505050" stroke-width="0.6"/>
<line x1="288.17" y1="118.1" x2="288.17" y2="119.8" stroke="#505050" stroke-width="0.6"/>
<line x1="289.06" y1="118.1" x2="289.06" y2="119.8" stroke="#505050" stroke-width="0.6"/>
<line x1="295.12" y1="118.1" x2="295.12" y2="119.8" stroke="#505050" stroke-width="0.6"/>
<line x1="298.2" y1="118.1" x2="298.2" y2="119.8" stroke="#505050" stroke-width="0.6"/>
<line x1="300.38" y1="118.1" x2="300.38" y2="119.8" stroke="#505050" stroke-width="0.6"/>
<line x1="302.07" y1="118.1" x2="302.07" y2="119.8" stroke="#505050" stroke-width="0.6"/>
<line x1="303.46" y1="118.1" x2="303.46" y2="119.8" stroke="#505050" stroke-width="0.6"/>
<line x1="304.63" y1="118.1" x2="304.63" y2="119.8" stroke="#505050" stroke-width="0.6"/>
<line x1="305.64" y1="118.1" x2="305.64" y2="119.8" stroke="#505050" stroke-width="0.6"/>
<line x1="306.53" y1="118.1" x2="306.53" y2="119.8" stroke="#505050" stroke-width="0.6"/>
<line x1="312.37" y1="118.1" x2="312.37" y2="119.8" stroke="#505050" stroke-width="0.6"/>
<line x1="315.32" y1="118.1" x2="315.32" y2="119.8" stroke="#505050" stroke-width="0.6"/>
<line x1="317.41" y1="118.1" x2="317.41" y2="119.8" stroke="#505050" stroke-width="0.6"/>
<line x1="319.04" y1="118.1" x2="319.04" y2="119.8" stroke="#505050" stroke-width="0.6"/>
<line x1="320.36" y1="118.1" x2="320.36" y2="119.8" stroke="#505050" stroke-width="0.6"/>
<line x1="321.48" y1="118.1" x2="321.48" y2="119.8" stroke="#505050" stroke-width="0.6"/>
<line x1="322.45" y1="118.1" x2="322.45" y2="119.8" stroke="#505050" stroke-width="0.6"/>
<line x1="323.31" y1="118.1" x2="323.31" y2="119.8" stroke="#505050" stroke-width="0.6"/>
<line x1="257.97" y1="118.1" x2="257.97" y2="119.8" stroke="#505050" stroke-width="0.6"/>
<line x1="259.5" y1="118.1" x2="259.5" y2="119.8" stroke="#505050" stroke-width="0.6"/>
<line x1="261.03" y1="118.1" x2="261.03" y2="119.8" stroke="#505050" stroke-width="0.6"/>
<line x1="262.56" y1="118.1" x2="262.56" y2="119.8" stroke="#505050" stroke-width="0.6"/>
<line x1="264.09" y1="118.1" x2="264.09" y2="119.8" stroke="#505050" stroke-width="0.6"/>
<line x1="265.62" y1="118.1" x2="265.62" y2="119.8" stroke="#505050" stroke-width="0.6"/>
<line x1="267.15" y1="118.1" x2="267.15" y2="119.8" stroke="#505050" stroke-width="0.6"/>
<line x1="268.68" y1="118.1" x2="268.68" y2="119.8" stroke="#505050" stroke-width="0.6"/>
<line x1="270.2" y1="118.1" x2="270.2" y2="119.8" stroke="#505050" stroke-width="0.6"/>
<line x1="271.73" y1="118.1" x2="271.73" y2="119.8" stroke="#505050" stroke-width="0.6"/>
<text x="261.8" y="132.2" font-size="8.4" fill="#303030" stroke="#303030" stroke-width="0.15" text-anchor="middle" textLength="3.9" lengthAdjust="spacingAndGlyphs">0</text>
<text x="267" y="132.2" font-size="8.4" fill="#303030" stroke="#303030" stroke-width="0.15" textLength="7.7" lengthAdjust="spacingAndGlyphs">10</text>
<text x="275.2" y="128.9" font-size="5.6" fill="#303030" stroke="#303030" stroke-width="0.15" textLength="2.9" lengthAdjust="spacingAndGlyphs">2</text>
<text x="284.8" y="132.2" font-size="8.4" fill="#303030" stroke="#303030" stroke-width="0.15" textLength="7.7" lengthAdjust="spacingAndGlyphs">10</text>
<text x="293" y="128.9" font-size="5.6" fill="#303030" stroke="#303030" stroke-width="0.15" textLength="2.9" lengthAdjust="spacingAndGlyphs">3</text>
<text x="302.1" y="132.2" font-size="8.4" fill="#303030" stroke="#303030" stroke-width="0.15" textLength="7.7" lengthAdjust="spacingAndGlyphs">10</text>
<text x="310.3" y="128.9" font-size="5.6" fill="#303030" stroke="#303030" stroke-width="0.15" textLength="2.9" lengthAdjust="spacingAndGlyphs">4</text>
<text x="317.4" y="132.2" font-size="8.4" fill="#303030" stroke="#303030" stroke-width="0.15" textLength="7.7" lengthAdjust="spacingAndGlyphs">10</text>
<text x="325.6" y="128.9" font-size="5.6" fill="#303030" stroke="#303030" stroke-width="0.15" textLength="2.9" lengthAdjust="spacingAndGlyphs">5</text>
<text x="0" y="0" transform="translate(248,82.25) rotate(-90)" font-size="10" text-anchor="middle" font-weight="normal" fill="#222" stroke="#222" stroke-width="0.22">Count</text>
<path d="M375.3 117.5 L384.92 117.5 L388.76 116.99 L392.61 117.5 L402.22 117.18 L405.11 115.26 L407.03 110.45 L408.95 104.68 L410.88 96.99 L412.22 94.11 L413.76 92.18 L415.3 88.34 L416.84 87.38 L418.38 89.68 L419.92 88.34 L421.45 89.68 L422.99 94.11 L424.53 92.18 L426.07 89.68 L427.61 87.38 L428.76 77.76 L429.92 62.38 L430.88 53.15 L431.84 60.45 L432.99 73.92 L434.15 87.38 L435.3 95.07 L436.84 96.99 L438.38 94.11 L439.34 93.53 L440.3 96.99 L441.26 104.68 L442.61 113.34 L444.53 116.8 L447.99 117.5 L447.9 118.1 L375 118.1 Z" fill="#e7e7e7" stroke="none"/>
<path d="M375.3 117.5 L384.92 117.5 L388.76 116.99 L392.61 117.5 L402.22 117.18 L405.11 115.26 L407.03 110.45 L408.95 104.68 L410.88 96.99 L412.22 94.11 L413.76 92.18 L415.3 88.34 L416.84 87.38 L418.38 89.68 L419.92 88.34 L421.45 89.68 L422.99 94.11 L424.53 92.18 L426.07 89.68 L427.61 87.38 L428.76 77.76 L429.92 62.38 L430.88 53.15 L431.84 60.45 L432.99 73.92 L434.15 87.38 L435.3 95.07 L436.84 96.99 L438.38 94.11 L439.34 93.53 L440.3 96.99 L441.26 104.68 L442.61 113.34 L444.53 116.8 L447.99 117.5" fill="none" stroke="#383838" stroke-width="1.05" stroke-linejoin="round"/>
<text x="431.73" y="58.27" font-size="4.3" fill="#6e6e6e" stroke="#6e6e6e" stroke-width="0.15">10.3%</text>
<line x1="433.73" y1="61.67" x2="439.53" y2="61.67" stroke="#3a3a3a" stroke-width="0.8"/>
<line x1="433.73" y1="60.77" x2="433.73" y2="62.57" stroke="#3a3a3a" stroke-width="0.8"/>
<line x1="439.53" y1="60.77" x2="439.53" y2="62.57" stroke="#3a3a3a" stroke-width="0.8"/>
<text x="428.85" y="65" font-size="4.3" fill="#6e6e6e" stroke="#6e6e6e" stroke-width="0.15">19.4%</text>
<line x1="430.85" y1="68.4" x2="436.65" y2="68.4" stroke="#3a3a3a" stroke-width="0.8"/>
<line x1="430.85" y1="67.5" x2="430.85" y2="69.3" stroke="#3a3a3a" stroke-width="0.8"/>
<line x1="436.65" y1="67.5" x2="436.65" y2="69.3" stroke="#3a3a3a" stroke-width="0.8"/>
<text x="424.04" y="70.77" font-size="4.3" fill="#6e6e6e" stroke="#6e6e6e" stroke-width="0.15">19.8%</text>
<line x1="426.04" y1="74.17" x2="431.84" y2="74.17" stroke="#3a3a3a" stroke-width="0.8"/>
<line x1="426.04" y1="73.27" x2="426.04" y2="75.07" stroke="#3a3a3a" stroke-width="0.8"/>
<line x1="431.84" y1="73.27" x2="431.84" y2="75.07" stroke="#3a3a3a" stroke-width="0.8"/>
<text x="419.23" y="78.46" font-size="4.3" fill="#6e6e6e" stroke="#6e6e6e" stroke-width="0.15">13.9%</text>
<line x1="421.23" y1="81.86" x2="427.03" y2="81.86" stroke="#3a3a3a" stroke-width="0.8"/>
<line x1="421.23" y1="80.96" x2="421.23" y2="82.76" stroke="#3a3a3a" stroke-width="0.8"/>
<line x1="427.03" y1="80.96" x2="427.03" y2="82.76" stroke="#3a3a3a" stroke-width="0.8"/>
<text x="414.42" y="86.15" font-size="4.3" fill="#6e6e6e" stroke="#6e6e6e" stroke-width="0.15">14.5%</text>
<line x1="416.42" y1="89.55" x2="422.22" y2="89.55" stroke="#3a3a3a" stroke-width="0.8"/>
<line x1="416.42" y1="88.65" x2="416.42" y2="90.45" stroke="#3a3a3a" stroke-width="0.8"/>
<line x1="422.22" y1="88.65" x2="422.22" y2="90.45" stroke="#3a3a3a" stroke-width="0.8"/>
<text x="409.23" y="92.88" font-size="4.3" fill="#6e6e6e" stroke="#6e6e6e" stroke-width="0.15">12.6%</text>
<line x1="411.23" y1="96.28" x2="417.03" y2="96.28" stroke="#3a3a3a" stroke-width="0.8"/>
<line x1="411.23" y1="95.38" x2="411.23" y2="97.18" stroke="#3a3a3a" stroke-width="0.8"/>
<line x1="417.03" y1="95.38" x2="417.03" y2="97.18" stroke="#3a3a3a" stroke-width="0.8"/>
<rect x="375" y="45.8" width="72.9" height="72.3" fill="none" stroke="#454545" stroke-width="1.3"/>
<line x1="373.4" y1="47.94" x2="375" y2="47.94" stroke="#4a4a4a" stroke-width="0.8"/>
<line x1="373.4" y1="52.12" x2="375" y2="52.12" stroke="#4a4a4a" stroke-width="0.8"/>
<line x1="371.8" y1="56.3" x2="375" y2="56.3" stroke="#4a4a4a" stroke-width="0.8"/>
<line x1="373.4" y1="60.48" x2="375" y2="60.48" stroke="#4a4a4a" stroke-width="0.8"/>
<line x1="373.4" y1="64.66" x2="375" y2="64.66" stroke="#4a4a4a" stroke-width="0.8"/>
<line x1="373.4" y1="68.84" x2="375" y2="68.84" stroke="#4a4a4a" stroke-width="0.8"/>
<line x1="373.4" y1="73.02" x2="375" y2="73.02" stroke="#4a4a4a" stroke-width="0.8"/>
<line x1="371.8" y1="77.2" x2="375" y2="77.2" stroke="#4a4a4a" stroke-width="0.8"/>
<line x1="373.4" y1="81.38" x2="375" y2="81.38" stroke="#4a4a4a" stroke-width="0.8"/>
<line x1="373.4" y1="85.56" x2="375" y2="85.56" stroke="#4a4a4a" stroke-width="0.8"/>
<line x1="373.4" y1="89.74" x2="375" y2="89.74" stroke="#4a4a4a" stroke-width="0.8"/>
<line x1="373.4" y1="93.92" x2="375" y2="93.92" stroke="#4a4a4a" stroke-width="0.8"/>
<line x1="371.8" y1="98.1" x2="375" y2="98.1" stroke="#4a4a4a" stroke-width="0.8"/>
<line x1="373.4" y1="102.28" x2="375" y2="102.28" stroke="#4a4a4a" stroke-width="0.8"/>
<line x1="373.4" y1="106.46" x2="375" y2="106.46" stroke="#4a4a4a" stroke-width="0.8"/>
<line x1="373.4" y1="110.64" x2="375" y2="110.64" stroke="#4a4a4a" stroke-width="0.8"/>
<line x1="373.4" y1="114.82" x2="375" y2="114.82" stroke="#4a4a4a" stroke-width="0.8"/>
<line x1="379.74" y1="118.1" x2="379.74" y2="121.1" stroke="#444" stroke-width="0.9"/>
<line x1="390.31" y1="118.1" x2="390.31" y2="121.1" stroke="#444" stroke-width="0.9"/>
<line x1="407.81" y1="118.1" x2="407.81" y2="121.1" stroke="#444" stroke-width="0.9"/>
<line x1="425.3" y1="118.1" x2="425.3" y2="121.1" stroke="#444" stroke-width="0.9"/>
<line x1="442.07" y1="118.1" x2="442.07" y2="121.1" stroke="#444" stroke-width="0.9"/>
<line x1="382.92" y1="118.1" x2="382.92" y2="119.8" stroke="#505050" stroke-width="0.6"/>
<line x1="384.78" y1="118.1" x2="384.78" y2="119.8" stroke="#505050" stroke-width="0.6"/>
<line x1="386.1" y1="118.1" x2="386.1" y2="119.8" stroke="#505050" stroke-width="0.6"/>
<line x1="387.13" y1="118.1" x2="387.13" y2="119.8" stroke="#505050" stroke-width="0.6"/>
<line x1="387.96" y1="118.1" x2="387.96" y2="119.8" stroke="#505050" stroke-width="0.6"/>
<line x1="388.67" y1="118.1" x2="388.67" y2="119.8" stroke="#505050" stroke-width="0.6"/>
<line x1="389.28" y1="118.1" x2="389.28" y2="119.8" stroke="#505050" stroke-width="0.6"/>
<line x1="389.83" y1="118.1" x2="389.83" y2="119.8" stroke="#505050" stroke-width="0.6"/>
<line x1="395.58" y1="118.1" x2="395.58" y2="119.8" stroke="#505050" stroke-width="0.6"/>
<line x1="398.66" y1="118.1" x2="398.66" y2="119.8" stroke="#505050" stroke-width="0.6"/>
<line x1="400.84" y1="118.1" x2="400.84" y2="119.8" stroke="#505050" stroke-width="0.6"/>
<line x1="402.54" y1="118.1" x2="402.54" y2="119.8" stroke="#505050" stroke-width="0.6"/>
<line x1="403.92" y1="118.1" x2="403.92" y2="119.8" stroke="#505050" stroke-width="0.6"/>
<line x1="405.09" y1="118.1" x2="405.09" y2="119.8" stroke="#505050" stroke-width="0.6"/>
<line x1="406.11" y1="118.1" x2="406.11" y2="119.8" stroke="#505050" stroke-width="0.6"/>
<line x1="407" y1="118.1" x2="407" y2="119.8" stroke="#505050" stroke-width="0.6"/>
<line x1="413.07" y1="118.1" x2="413.07" y2="119.8" stroke="#505050" stroke-width="0.6"/>
<line x1="416.15" y1="118.1" x2="416.15" y2="119.8" stroke="#505050" stroke-width="0.6"/>
<line x1="418.34" y1="118.1" x2="418.34" y2="119.8" stroke="#505050" stroke-width="0.6"/>
<line x1="420.03" y1="118.1" x2="420.03" y2="119.8" stroke="#505050" stroke-width="0.6"/>
<line x1="421.42" y1="118.1" x2="421.42" y2="119.8" stroke="#505050" stroke-width="0.6"/>
<line x1="422.59" y1="118.1" x2="422.59" y2="119.8" stroke="#505050" stroke-width="0.6"/>
<line x1="423.61" y1="118.1" x2="423.61" y2="119.8" stroke="#505050" stroke-width="0.6"/>
<line x1="424.5" y1="118.1" x2="424.5" y2="119.8" stroke="#505050" stroke-width="0.6"/>
<line x1="430.35" y1="118.1" x2="430.35" y2="119.8" stroke="#505050" stroke-width="0.6"/>
<line x1="433.3" y1="118.1" x2="433.3" y2="119.8" stroke="#505050" stroke-width="0.6"/>
<line x1="435.4" y1="118.1" x2="435.4" y2="119.8" stroke="#505050" stroke-width="0.6"/>
<line x1="437.02" y1="118.1" x2="437.02" y2="119.8" stroke="#505050" stroke-width="0.6"/>
<line x1="438.35" y1="118.1" x2="438.35" y2="119.8" stroke="#505050" stroke-width="0.6"/>
<line x1="439.47" y1="118.1" x2="439.47" y2="119.8" stroke="#505050" stroke-width="0.6"/>
<line x1="440.44" y1="118.1" x2="440.44" y2="119.8" stroke="#505050" stroke-width="0.6"/>
<line x1="441.3" y1="118.1" x2="441.3" y2="119.8" stroke="#505050" stroke-width="0.6"/>
<line x1="375.87" y1="118.1" x2="375.87" y2="119.8" stroke="#505050" stroke-width="0.6"/>
<line x1="377.41" y1="118.1" x2="377.41" y2="119.8" stroke="#505050" stroke-width="0.6"/>
<line x1="378.94" y1="118.1" x2="378.94" y2="119.8" stroke="#505050" stroke-width="0.6"/>
<line x1="380.47" y1="118.1" x2="380.47" y2="119.8" stroke="#505050" stroke-width="0.6"/>
<line x1="382" y1="118.1" x2="382" y2="119.8" stroke="#505050" stroke-width="0.6"/>
<line x1="383.53" y1="118.1" x2="383.53" y2="119.8" stroke="#505050" stroke-width="0.6"/>
<line x1="385.06" y1="118.1" x2="385.06" y2="119.8" stroke="#505050" stroke-width="0.6"/>
<line x1="386.59" y1="118.1" x2="386.59" y2="119.8" stroke="#505050" stroke-width="0.6"/>
<line x1="388.12" y1="118.1" x2="388.12" y2="119.8" stroke="#505050" stroke-width="0.6"/>
<line x1="389.65" y1="118.1" x2="389.65" y2="119.8" stroke="#505050" stroke-width="0.6"/>
<text x="379.7" y="132.2" font-size="8.4" fill="#303030" stroke="#303030" stroke-width="0.15" text-anchor="middle" textLength="3.9" lengthAdjust="spacingAndGlyphs">0</text>
<text x="384.9" y="132.2" font-size="8.4" fill="#303030" stroke="#303030" stroke-width="0.15" textLength="7.7" lengthAdjust="spacingAndGlyphs">10</text>
<text x="393.1" y="128.9" font-size="5.6" fill="#303030" stroke="#303030" stroke-width="0.15" textLength="2.9" lengthAdjust="spacingAndGlyphs">2</text>
<text x="402.7" y="132.2" font-size="8.4" fill="#303030" stroke="#303030" stroke-width="0.15" textLength="7.7" lengthAdjust="spacingAndGlyphs">10</text>
<text x="410.9" y="128.9" font-size="5.6" fill="#303030" stroke="#303030" stroke-width="0.15" textLength="2.9" lengthAdjust="spacingAndGlyphs">3</text>
<text x="420" y="132.2" font-size="8.4" fill="#303030" stroke="#303030" stroke-width="0.15" textLength="7.7" lengthAdjust="spacingAndGlyphs">10</text>
<text x="428.2" y="128.9" font-size="5.6" fill="#303030" stroke="#303030" stroke-width="0.15" textLength="2.9" lengthAdjust="spacingAndGlyphs">4</text>
<text x="435.3" y="132.2" font-size="8.4" fill="#303030" stroke="#303030" stroke-width="0.15" textLength="7.7" lengthAdjust="spacingAndGlyphs">10</text>
<text x="443.5" y="128.9" font-size="5.6" fill="#303030" stroke="#303030" stroke-width="0.15" textLength="2.9" lengthAdjust="spacingAndGlyphs">5</text>
<text x="0" y="0" transform="translate(365.9,82.25) rotate(-90)" font-size="10" text-anchor="middle" font-weight="normal" fill="#222" stroke="#222" stroke-width="0.22">Count</text>
<path d="M145.3 245.65 L155.3 245.45 L159.15 244.88 L162.99 245.45 L170.68 245.45 L173.57 243.15 L176.07 237.38 L177.99 229.68 L179.53 221.99 L181.07 216.22 L182.61 210.45 L184.15 202.76 L185.3 196.99 L186.45 194.11 L187.61 196.99 L188.57 200.84 L189.53 195.07 L190.49 190.26 L191.45 195.07 L192.42 202.76 L193.76 203.72 L194.92 208.53 L196.07 213.34 L197.61 210.45 L198.76 202.76 L199.92 189.3 L200.88 179.68 L201.45 178.72 L202.22 185.45 L203.38 198.92 L204.53 212.38 L205.68 220.07 L206.84 223.92 L207.99 221.99 L208.95 221.61 L209.92 224.88 L211.07 233.53 L212.61 241.22 L214.92 245.07 L218.38 245.65 L217.6 247.1 L144.6 247.1 Z" fill="#e7e7e7" stroke="none"/>
<path d="M145.3 245.65 L155.3 245.45 L159.15 244.88 L162.99 245.45 L170.68 245.45 L173.57 243.15 L176.07 237.38 L177.99 229.68 L179.53 221.99 L181.07 216.22 L182.61 210.45 L184.15 202.76 L185.3 196.99 L186.45 194.11 L187.61 196.99 L188.57 200.84 L189.53 195.07 L190.49 190.26 L191.45 195.07 L192.42 202.76 L193.76 203.72 L194.92 208.53 L196.07 213.34 L197.61 210.45 L198.76 202.76 L199.92 189.3 L200.88 179.68 L201.45 178.72 L202.22 185.45 L203.38 198.92 L204.53 212.38 L205.68 220.07 L206.84 223.92 L207.99 221.99 L208.95 221.61 L209.92 224.88 L211.07 233.53 L212.61 241.22 L214.92 245.07 L218.38 245.65" fill="none" stroke="#383838" stroke-width="1.05" stroke-linejoin="round"/>
<text x="202.69" y="186.15" font-size="4.3" fill="#6e6e6e" stroke="#6e6e6e" stroke-width="0.15">11.7%</text>
<line x1="204.69" y1="189.55" x2="210.49" y2="189.55" stroke="#3a3a3a" stroke-width="0.8"/>
<line x1="204.69" y1="188.65" x2="204.69" y2="190.45" stroke="#3a3a3a" stroke-width="0.8"/>
<line x1="210.49" y1="188.65" x2="210.49" y2="190.45" stroke="#3a3a3a" stroke-width="0.8"/>
<text x="197.69" y="192.88" font-size="4.3" fill="#6e6e6e" stroke="#6e6e6e" stroke-width="0.15">25.%</text>
<line x1="199.69" y1="196.28" x2="205.49" y2="196.28" stroke="#3a3a3a" stroke-width="0.8"/>
<line x1="199.69" y1="195.38" x2="199.69" y2="197.18" stroke="#3a3a3a" stroke-width="0.8"/>
<line x1="205.49" y1="195.38" x2="205.49" y2="197.18" stroke="#3a3a3a" stroke-width="0.8"/>
<text x="192.5" y="201.54" font-size="4.3" fill="#6e6e6e" stroke="#6e6e6e" stroke-width="0.15">17.1%</text>
<line x1="194.5" y1="204.94" x2="200.3" y2="204.94" stroke="#3a3a3a" stroke-width="0.8"/>
<line x1="194.5" y1="204.04" x2="194.5" y2="205.84" stroke="#3a3a3a" stroke-width="0.8"/>
<line x1="200.3" y1="204.04" x2="200.3" y2="205.84" stroke="#3a3a3a" stroke-width="0.8"/>
<text x="187.69" y="208.27" font-size="4.3" fill="#6e6e6e" stroke="#6e6e6e" stroke-width="0.15">14.8%</text>
<line x1="189.69" y1="211.67" x2="195.49" y2="211.67" stroke="#3a3a3a" stroke-width="0.8"/>
<line x1="189.69" y1="210.77" x2="189.69" y2="212.57" stroke="#3a3a3a" stroke-width="0.8"/>
<line x1="195.49" y1="210.77" x2="195.49" y2="212.57" stroke="#3a3a3a" stroke-width="0.8"/>
<text x="182.88" y="215" font-size="4.3" fill="#6e6e6e" stroke="#6e6e6e" stroke-width="0.15">12.7%</text>
<line x1="184.88" y1="218.4" x2="190.68" y2="218.4" stroke="#3a3a3a" stroke-width="0.8"/>
<line x1="184.88" y1="217.5" x2="184.88" y2="219.3" stroke="#3a3a3a" stroke-width="0.8"/>
<line x1="190.68" y1="217.5" x2="190.68" y2="219.3" stroke="#3a3a3a" stroke-width="0.8"/>
<text x="178.08" y="222.69" font-size="4.3" fill="#6e6e6e" stroke="#6e6e6e" stroke-width="0.15">8.9%</text>
<line x1="180.08" y1="226.09" x2="185.88" y2="226.09" stroke="#3a3a3a" stroke-width="0.8"/>
<line x1="180.08" y1="225.19" x2="180.08" y2="226.99" stroke="#3a3a3a" stroke-width="0.8"/>
<line x1="185.88" y1="225.19" x2="185.88" y2="226.99" stroke="#3a3a3a" stroke-width="0.8"/>
<rect x="144.6" y="174.4" width="73" height="72.7" fill="none" stroke="#454545" stroke-width="1.3"/>
<line x1="143" y1="176.54" x2="144.6" y2="176.54" stroke="#4a4a4a" stroke-width="0.8"/>
<line x1="143" y1="180.72" x2="144.6" y2="180.72" stroke="#4a4a4a" stroke-width="0.8"/>
<line x1="141.4" y1="184.9" x2="144.6" y2="184.9" stroke="#4a4a4a" stroke-width="0.8"/>
<line x1="143" y1="189.08" x2="144.6" y2="189.08" stroke="#4a4a4a" stroke-width="0.8"/>
<line x1="143" y1="193.26" x2="144.6" y2="193.26" stroke="#4a4a4a" stroke-width="0.8"/>
<line x1="143" y1="197.44" x2="144.6" y2="197.44" stroke="#4a4a4a" stroke-width="0.8"/>
<line x1="143" y1="201.62" x2="144.6" y2="201.62" stroke="#4a4a4a" stroke-width="0.8"/>
<line x1="141.4" y1="205.8" x2="144.6" y2="205.8" stroke="#4a4a4a" stroke-width="0.8"/>
<line x1="143" y1="209.98" x2="144.6" y2="209.98" stroke="#4a4a4a" stroke-width="0.8"/>
<line x1="143" y1="214.16" x2="144.6" y2="214.16" stroke="#4a4a4a" stroke-width="0.8"/>
<line x1="143" y1="218.34" x2="144.6" y2="218.34" stroke="#4a4a4a" stroke-width="0.8"/>
<line x1="143" y1="222.52" x2="144.6" y2="222.52" stroke="#4a4a4a" stroke-width="0.8"/>
<line x1="141.4" y1="226.7" x2="144.6" y2="226.7" stroke="#4a4a4a" stroke-width="0.8"/>
<line x1="143" y1="230.88" x2="144.6" y2="230.88" stroke="#4a4a4a" stroke-width="0.8"/>
<line x1="143" y1="235.06" x2="144.6" y2="235.06" stroke="#4a4a4a" stroke-width="0.8"/>
<line x1="143" y1="239.24" x2="144.6" y2="239.24" stroke="#4a4a4a" stroke-width="0.8"/>
<line x1="143" y1="243.42" x2="144.6" y2="243.42" stroke="#4a4a4a" stroke-width="0.8"/>
<line x1="149.34" y1="247.1" x2="149.34" y2="250.1" stroke="#444" stroke-width="0.9"/>
<line x1="159.93" y1="247.1" x2="159.93" y2="250.1" stroke="#444" stroke-width="0.9"/>
<line x1="177.45" y1="247.1" x2="177.45" y2="250.1" stroke="#444" stroke-width="0.9"/>
<line x1="194.97" y1="247.1" x2="194.97" y2="250.1" stroke="#444" stroke-width="0.9"/>
<line x1="211.76" y1="247.1" x2="211.76" y2="250.1" stroke="#444" stroke-width="0.9"/>
<line x1="152.53" y1="247.1" x2="152.53" y2="248.8" stroke="#505050" stroke-width="0.6"/>
<line x1="154.4" y1="247.1" x2="154.4" y2="248.8" stroke="#505050" stroke-width="0.6"/>
<line x1="155.72" y1="247.1" x2="155.72" y2="248.8" stroke="#505050" stroke-width="0.6"/>
<line x1="156.74" y1="247.1" x2="156.74" y2="248.8" stroke="#505050" stroke-width="0.6"/>
<line x1="157.58" y1="247.1" x2="157.58" y2="248.8" stroke="#505050" stroke-width="0.6"/>
<line x1="158.29" y1="247.1" x2="158.29" y2="248.8" stroke="#505050" stroke-width="0.6"/>
<line x1="158.9" y1="247.1" x2="158.9" y2="248.8" stroke="#505050" stroke-width="0.6"/>
<line x1="159.45" y1="247.1" x2="159.45" y2="248.8" stroke="#505050" stroke-width="0.6"/>
<line x1="165.2" y1="247.1" x2="165.2" y2="248.8" stroke="#505050" stroke-width="0.6"/>
<line x1="168.29" y1="247.1" x2="168.29" y2="248.8" stroke="#505050" stroke-width="0.6"/>
<line x1="170.48" y1="247.1" x2="170.48" y2="248.8" stroke="#505050" stroke-width="0.6"/>
<line x1="172.18" y1="247.1" x2="172.18" y2="248.8" stroke="#505050" stroke-width="0.6"/>
<line x1="173.56" y1="247.1" x2="173.56" y2="248.8" stroke="#505050" stroke-width="0.6"/>
<line x1="174.74" y1="247.1" x2="174.74" y2="248.8" stroke="#505050" stroke-width="0.6"/>
<line x1="175.75" y1="247.1" x2="175.75" y2="248.8" stroke="#505050" stroke-width="0.6"/>
<line x1="176.65" y1="247.1" x2="176.65" y2="248.8" stroke="#505050" stroke-width="0.6"/>
<line x1="182.72" y1="247.1" x2="182.72" y2="248.8" stroke="#505050" stroke-width="0.6"/>
<line x1="185.81" y1="247.1" x2="185.81" y2="248.8" stroke="#505050" stroke-width="0.6"/>
<line x1="188" y1="247.1" x2="188" y2="248.8" stroke="#505050" stroke-width="0.6"/>
<line x1="189.7" y1="247.1" x2="189.7" y2="248.8" stroke="#505050" stroke-width="0.6"/>
<line x1="191.08" y1="247.1" x2="191.08" y2="248.8" stroke="#505050" stroke-width="0.6"/>
<line x1="192.26" y1="247.1" x2="192.26" y2="248.8" stroke="#505050" stroke-width="0.6"/>
<line x1="193.27" y1="247.1" x2="193.27" y2="248.8" stroke="#505050" stroke-width="0.6"/>
<line x1="194.17" y1="247.1" x2="194.17" y2="248.8" stroke="#505050" stroke-width="0.6"/>
<line x1="200.02" y1="247.1" x2="200.02" y2="248.8" stroke="#505050" stroke-width="0.6"/>
<line x1="202.98" y1="247.1" x2="202.98" y2="248.8" stroke="#505050" stroke-width="0.6"/>
<line x1="205.08" y1="247.1" x2="205.08" y2="248.8" stroke="#505050" stroke-width="0.6"/>
<line x1="206.71" y1="247.1" x2="206.71" y2="248.8" stroke="#505050" stroke-width="0.6"/>
<line x1="208.04" y1="247.1" x2="208.04" y2="248.8" stroke="#505050" stroke-width="0.6"/>
<line x1="209.16" y1="247.1" x2="209.16" y2="248.8" stroke="#505050" stroke-width="0.6"/>
<line x1="210.13" y1="247.1" x2="210.13" y2="248.8" stroke="#505050" stroke-width="0.6"/>
<line x1="210.99" y1="247.1" x2="210.99" y2="248.8" stroke="#505050" stroke-width="0.6"/>
<line x1="145.48" y1="247.1" x2="145.48" y2="248.8" stroke="#505050" stroke-width="0.6"/>
<line x1="147.01" y1="247.1" x2="147.01" y2="248.8" stroke="#505050" stroke-width="0.6"/>
<line x1="148.54" y1="247.1" x2="148.54" y2="248.8" stroke="#505050" stroke-width="0.6"/>
<line x1="150.07" y1="247.1" x2="150.07" y2="248.8" stroke="#505050" stroke-width="0.6"/>
<line x1="151.61" y1="247.1" x2="151.61" y2="248.8" stroke="#505050" stroke-width="0.6"/>
<line x1="153.14" y1="247.1" x2="153.14" y2="248.8" stroke="#505050" stroke-width="0.6"/>
<line x1="154.67" y1="247.1" x2="154.67" y2="248.8" stroke="#505050" stroke-width="0.6"/>
<line x1="156.21" y1="247.1" x2="156.21" y2="248.8" stroke="#505050" stroke-width="0.6"/>
<line x1="157.74" y1="247.1" x2="157.74" y2="248.8" stroke="#505050" stroke-width="0.6"/>
<line x1="159.27" y1="247.1" x2="159.27" y2="248.8" stroke="#505050" stroke-width="0.6"/>
<text x="149.3" y="260.2" font-size="8.4" fill="#303030" stroke="#303030" stroke-width="0.15" text-anchor="middle" textLength="3.9" lengthAdjust="spacingAndGlyphs">0</text>
<text x="154.5" y="260.2" font-size="8.4" fill="#303030" stroke="#303030" stroke-width="0.15" textLength="7.7" lengthAdjust="spacingAndGlyphs">10</text>
<text x="162.7" y="256.9" font-size="5.6" fill="#303030" stroke="#303030" stroke-width="0.15" textLength="2.9" lengthAdjust="spacingAndGlyphs">2</text>
<text x="172.3" y="260.2" font-size="8.4" fill="#303030" stroke="#303030" stroke-width="0.15" textLength="7.7" lengthAdjust="spacingAndGlyphs">10</text>
<text x="180.5" y="256.9" font-size="5.6" fill="#303030" stroke="#303030" stroke-width="0.15" textLength="2.9" lengthAdjust="spacingAndGlyphs">3</text>
<text x="189.6" y="260.2" font-size="8.4" fill="#303030" stroke="#303030" stroke-width="0.15" textLength="7.7" lengthAdjust="spacingAndGlyphs">10</text>
<text x="197.8" y="256.9" font-size="5.6" fill="#303030" stroke="#303030" stroke-width="0.15" textLength="2.9" lengthAdjust="spacingAndGlyphs">4</text>
<text x="204.9" y="260.2" font-size="8.4" fill="#303030" stroke="#303030" stroke-width="0.15" textLength="7.7" lengthAdjust="spacingAndGlyphs">10</text>
<text x="213.1" y="256.9" font-size="5.6" fill="#303030" stroke="#303030" stroke-width="0.15" textLength="2.9" lengthAdjust="spacingAndGlyphs">5</text>
<text x="0" y="0" transform="translate(135.5,211.05) rotate(-90)" font-size="10" text-anchor="middle" font-weight="normal" fill="#222" stroke="#222" stroke-width="0.22">Count</text>
<path d="M257.22 245.65 L274.92 245.45 L282.61 244.68 L286.45 243.15 L289.34 238.34 L291.26 229.68 L293.18 220.07 L294.72 212.38 L296.07 204.68 L297.61 196.99 L298.57 196.03 L299.53 198.92 L300.68 202.76 L301.84 196.99 L302.99 192.76 L303.95 196.99 L305.11 202.76 L306.45 206.61 L307.61 211.99 L308.95 208.53 L310.3 200.84 L311.45 191.22 L312.61 182.57 L313.38 180.26 L314.34 185.45 L315.49 196.99 L316.65 206.61 L317.8 214.3 L319.15 217.18 L320.49 212.38 L321.65 210.07 L322.61 213.34 L323.95 221.99 L325.49 233.53 L327.22 242.18 L329.92 245.45 L329.9 247.1 L257.1 247.1 Z" fill="#e7e7e7" stroke="none"/>
<path d="M257.22 245.65 L274.92 245.45 L282.61 244.68 L286.45 243.15 L289.34 238.34 L291.26 229.68 L293.18 220.07 L294.72 212.38 L296.07 204.68 L297.61 196.99 L298.57 196.03 L299.53 198.92 L300.68 202.76 L301.84 196.99 L302.99 192.76 L303.95 196.99 L305.11 202.76 L306.45 206.61 L307.61 211.99 L308.95 208.53 L310.3 200.84 L311.45 191.22 L312.61 182.57 L313.38 180.26 L314.34 185.45 L315.49 196.99 L316.65 206.61 L317.8 214.3 L319.15 217.18 L320.49 212.38 L321.65 210.07 L322.61 213.34 L323.95 221.99 L325.49 233.53 L327.22 242.18 L329.92 245.45" fill="none" stroke="#383838" stroke-width="1.05" stroke-linejoin="round"/>
<text x="315" y="186.15" font-size="4.3" fill="#6e6e6e" stroke="#6e6e6e" stroke-width="0.15">12.7%</text>
<line x1="317" y1="189.55" x2="322.8" y2="189.55" stroke="#3a3a3a" stroke-width="0.8"/>
<line x1="317" y1="188.65" x2="317" y2="190.45" stroke="#3a3a3a" stroke-width="0.8"/>
<line x1="322.8" y1="188.65" x2="322.8" y2="190.45" stroke="#3a3a3a" stroke-width="0.8"/>
<text x="309.23" y="192.88" font-size="4.3" fill="#6e6e6e" stroke="#6e6e6e" stroke-width="0.15">24.6%</text>
<line x1="311.23" y1="196.28" x2="317.03" y2="196.28" stroke="#3a3a3a" stroke-width="0.8"/>
<line x1="311.23" y1="195.38" x2="311.23" y2="197.18" stroke="#3a3a3a" stroke-width="0.8"/>
<line x1="317.03" y1="195.38" x2="317.03" y2="197.18" stroke="#3a3a3a" stroke-width="0.8"/>
<text x="304.42" y="202.5" font-size="4.3" fill="#6e6e6e" stroke="#6e6e6e" stroke-width="0.15">17.1%</text>
<line x1="306.42" y1="205.9" x2="312.22" y2="205.9" stroke="#3a3a3a" stroke-width="0.8"/>
<line x1="306.42" y1="205" x2="306.42" y2="206.8" stroke="#3a3a3a" stroke-width="0.8"/>
<line x1="312.22" y1="205" x2="312.22" y2="206.8" stroke="#3a3a3a" stroke-width="0.8"/>
<text x="299.62" y="209.23" font-size="4.3" fill="#6e6e6e" stroke="#6e6e6e" stroke-width="0.15">14.1%</text>
<line x1="301.62" y1="212.63" x2="307.42" y2="212.63" stroke="#3a3a3a" stroke-width="0.8"/>
<line x1="301.62" y1="211.73" x2="301.62" y2="213.53" stroke="#3a3a3a" stroke-width="0.8"/>
<line x1="307.42" y1="211.73" x2="307.42" y2="213.53" stroke="#3a3a3a" stroke-width="0.8"/>
<text x="295.77" y="215.96" font-size="4.3" fill="#6e6e6e" stroke="#6e6e6e" stroke-width="0.15">11.%</text>
<line x1="297.77" y1="219.36" x2="303.57" y2="219.36" stroke="#3a3a3a" stroke-width="0.8"/>
<line x1="297.77" y1="218.46" x2="297.77" y2="220.26" stroke="#3a3a3a" stroke-width="0.8"/>
<line x1="303.57" y1="218.46" x2="303.57" y2="220.26" stroke="#3a3a3a" stroke-width="0.8"/>
<text x="288.08" y="223.65" font-size="4.3" fill="#6e6e6e" stroke="#6e6e6e" stroke-width="0.15">8.6%</text>
<line x1="290.08" y1="227.05" x2="295.88" y2="227.05" stroke="#3a3a3a" stroke-width="0.8"/>
<line x1="290.08" y1="226.15" x2="290.08" y2="227.95" stroke="#3a3a3a" stroke-width="0.8"/>
<line x1="295.88" y1="226.15" x2="295.88" y2="227.95" stroke="#3a3a3a" stroke-width="0.8"/>
<rect x="257.1" y="174.4" width="72.8" height="72.7" fill="none" stroke="#454545" stroke-width="1.3"/>
<line x1="255.5" y1="176.54" x2="257.1" y2="176.54" stroke="#4a4a4a" stroke-width="0.8"/>
<line x1="255.5" y1="180.72" x2="257.1" y2="180.72" stroke="#4a4a4a" stroke-width="0.8"/>
<line x1="253.9" y1="184.9" x2="257.1" y2="184.9" stroke="#4a4a4a" stroke-width="0.8"/>
<line x1="255.5" y1="189.08" x2="257.1" y2="189.08" stroke="#4a4a4a" stroke-width="0.8"/>
<line x1="255.5" y1="193.26" x2="257.1" y2="193.26" stroke="#4a4a4a" stroke-width="0.8"/>
<line x1="255.5" y1="197.44" x2="257.1" y2="197.44" stroke="#4a4a4a" stroke-width="0.8"/>
<line x1="255.5" y1="201.62" x2="257.1" y2="201.62" stroke="#4a4a4a" stroke-width="0.8"/>
<line x1="253.9" y1="205.8" x2="257.1" y2="205.8" stroke="#4a4a4a" stroke-width="0.8"/>
<line x1="255.5" y1="209.98" x2="257.1" y2="209.98" stroke="#4a4a4a" stroke-width="0.8"/>
<line x1="255.5" y1="214.16" x2="257.1" y2="214.16" stroke="#4a4a4a" stroke-width="0.8"/>
<line x1="255.5" y1="218.34" x2="257.1" y2="218.34" stroke="#4a4a4a" stroke-width="0.8"/>
<line x1="255.5" y1="222.52" x2="257.1" y2="222.52" stroke="#4a4a4a" stroke-width="0.8"/>
<line x1="253.9" y1="226.7" x2="257.1" y2="226.7" stroke="#4a4a4a" stroke-width="0.8"/>
<line x1="255.5" y1="230.88" x2="257.1" y2="230.88" stroke="#4a4a4a" stroke-width="0.8"/>
<line x1="255.5" y1="235.06" x2="257.1" y2="235.06" stroke="#4a4a4a" stroke-width="0.8"/>
<line x1="255.5" y1="239.24" x2="257.1" y2="239.24" stroke="#4a4a4a" stroke-width="0.8"/>
<line x1="255.5" y1="243.42" x2="257.1" y2="243.42" stroke="#4a4a4a" stroke-width="0.8"/>
<line x1="261.83" y1="247.1" x2="261.83" y2="250.1" stroke="#444" stroke-width="0.9"/>
<line x1="272.39" y1="247.1" x2="272.39" y2="250.1" stroke="#444" stroke-width="0.9"/>
<line x1="289.86" y1="247.1" x2="289.86" y2="250.1" stroke="#444" stroke-width="0.9"/>
<line x1="307.33" y1="247.1" x2="307.33" y2="250.1" stroke="#444" stroke-width="0.9"/>
<line x1="324.08" y1="247.1" x2="324.08" y2="250.1" stroke="#444" stroke-width="0.9"/>
<line x1="265.01" y1="247.1" x2="265.01" y2="248.8" stroke="#505050" stroke-width="0.6"/>
<line x1="266.87" y1="247.1" x2="266.87" y2="248.8" stroke="#505050" stroke-width="0.6"/>
<line x1="268.19" y1="247.1" x2="268.19" y2="248.8" stroke="#505050" stroke-width="0.6"/>
<line x1="269.21" y1="247.1" x2="269.21" y2="248.8" stroke="#505050" stroke-width="0.6"/>
<line x1="270.05" y1="247.1" x2="270.05" y2="248.8" stroke="#505050" stroke-width="0.6"/>
<line x1="270.75" y1="247.1" x2="270.75" y2="248.8" stroke="#505050" stroke-width="0.6"/>
<line x1="271.37" y1="247.1" x2="271.37" y2="248.8" stroke="#505050" stroke-width="0.6"/>
<line x1="271.9" y1="247.1" x2="271.9" y2="248.8" stroke="#505050" stroke-width="0.6"/>
<line x1="277.65" y1="247.1" x2="277.65" y2="248.8" stroke="#505050" stroke-width="0.6"/>
<line x1="280.72" y1="247.1" x2="280.72" y2="248.8" stroke="#505050" stroke-width="0.6"/>
<line x1="282.91" y1="247.1" x2="282.91" y2="248.8" stroke="#505050" stroke-width="0.6"/>
<line x1="284.6" y1="247.1" x2="284.6" y2="248.8" stroke="#505050" stroke-width="0.6"/>
<line x1="285.98" y1="247.1" x2="285.98" y2="248.8" stroke="#505050" stroke-width="0.6"/>
<line x1="287.15" y1="247.1" x2="287.15" y2="248.8" stroke="#505050" stroke-width="0.6"/>
<line x1="288.17" y1="247.1" x2="288.17" y2="248.8" stroke="#505050" stroke-width="0.6"/>
<line x1="289.06" y1="247.1" x2="289.06" y2="248.8" stroke="#505050" stroke-width="0.6"/>
<line x1="295.12" y1="247.1" x2="295.12" y2="248.8" stroke="#505050" stroke-width="0.6"/>
<line x1="298.2" y1="247.1" x2="298.2" y2="248.8" stroke="#505050" stroke-width="0.6"/>
<line x1="300.38" y1="247.1" x2="300.38" y2="248.8" stroke="#505050" stroke-width="0.6"/>
<line x1="302.07" y1="247.1" x2="302.07" y2="248.8" stroke="#505050" stroke-width="0.6"/>
<line x1="303.46" y1="247.1" x2="303.46" y2="248.8" stroke="#505050" stroke-width="0.6"/>
<line x1="304.63" y1="247.1" x2="304.63" y2="248.8" stroke="#505050" stroke-width="0.6"/>
<line x1="305.64" y1="247.1" x2="305.64" y2="248.8" stroke="#505050" stroke-width="0.6"/>
<line x1="306.53" y1="247.1" x2="306.53" y2="248.8" stroke="#505050" stroke-width="0.6"/>
<line x1="312.37" y1="247.1" x2="312.37" y2="248.8" stroke="#505050" stroke-width="0.6"/>
<line x1="315.32" y1="247.1" x2="315.32" y2="248.8" stroke="#505050" stroke-width="0.6"/>
<line x1="317.41" y1="247.1" x2="317.41" y2="248.8" stroke="#505050" stroke-width="0.6"/>
<line x1="319.04" y1="247.1" x2="319.04" y2="248.8" stroke="#505050" stroke-width="0.6"/>
<line x1="320.36" y1="247.1" x2="320.36" y2="248.8" stroke="#505050" stroke-width="0.6"/>
<line x1="321.48" y1="247.1" x2="321.48" y2="248.8" stroke="#505050" stroke-width="0.6"/>
<line x1="322.45" y1="247.1" x2="322.45" y2="248.8" stroke="#505050" stroke-width="0.6"/>
<line x1="323.31" y1="247.1" x2="323.31" y2="248.8" stroke="#505050" stroke-width="0.6"/>
<line x1="257.97" y1="247.1" x2="257.97" y2="248.8" stroke="#505050" stroke-width="0.6"/>
<line x1="259.5" y1="247.1" x2="259.5" y2="248.8" stroke="#505050" stroke-width="0.6"/>
<line x1="261.03" y1="247.1" x2="261.03" y2="248.8" stroke="#505050" stroke-width="0.6"/>
<line x1="262.56" y1="247.1" x2="262.56" y2="248.8" stroke="#505050" stroke-width="0.6"/>
<line x1="264.09" y1="247.1" x2="264.09" y2="248.8" stroke="#505050" stroke-width="0.6"/>
<line x1="265.62" y1="247.1" x2="265.62" y2="248.8" stroke="#505050" stroke-width="0.6"/>
<line x1="267.15" y1="247.1" x2="267.15" y2="248.8" stroke="#505050" stroke-width="0.6"/>
<line x1="268.68" y1="247.1" x2="268.68" y2="248.8" stroke="#505050" stroke-width="0.6"/>
<line x1="270.2" y1="247.1" x2="270.2" y2="248.8" stroke="#505050" stroke-width="0.6"/>
<line x1="271.73" y1="247.1" x2="271.73" y2="248.8" stroke="#505050" stroke-width="0.6"/>
<text x="261.8" y="260.2" font-size="8.4" fill="#303030" stroke="#303030" stroke-width="0.15" text-anchor="middle" textLength="3.9" lengthAdjust="spacingAndGlyphs">0</text>
<text x="267" y="260.2" font-size="8.4" fill="#303030" stroke="#303030" stroke-width="0.15" textLength="7.7" lengthAdjust="spacingAndGlyphs">10</text>
<text x="275.2" y="256.9" font-size="5.6" fill="#303030" stroke="#303030" stroke-width="0.15" textLength="2.9" lengthAdjust="spacingAndGlyphs">2</text>
<text x="284.8" y="260.2" font-size="8.4" fill="#303030" stroke="#303030" stroke-width="0.15" textLength="7.7" lengthAdjust="spacingAndGlyphs">10</text>
<text x="293" y="256.9" font-size="5.6" fill="#303030" stroke="#303030" stroke-width="0.15" textLength="2.9" lengthAdjust="spacingAndGlyphs">3</text>
<text x="302.1" y="260.2" font-size="8.4" fill="#303030" stroke="#303030" stroke-width="0.15" textLength="7.7" lengthAdjust="spacingAndGlyphs">10</text>
<text x="310.3" y="256.9" font-size="5.6" fill="#303030" stroke="#303030" stroke-width="0.15" textLength="2.9" lengthAdjust="spacingAndGlyphs">4</text>
<text x="317.4" y="260.2" font-size="8.4" fill="#303030" stroke="#303030" stroke-width="0.15" textLength="7.7" lengthAdjust="spacingAndGlyphs">10</text>
<text x="325.6" y="256.9" font-size="5.6" fill="#303030" stroke="#303030" stroke-width="0.15" textLength="2.9" lengthAdjust="spacingAndGlyphs">5</text>
<text x="0" y="0" transform="translate(248,211.05) rotate(-90)" font-size="10" text-anchor="middle" font-weight="normal" fill="#222" stroke="#222" stroke-width="0.22">Count</text>
<path d="M375.3 245.65 L384.92 245.45 L388.76 244.68 L392.61 245.45 L402.22 245.07 L405.11 242.18 L407.03 235.45 L408.95 225.84 L410.88 220.07 L412.8 214.3 L414.34 206.61 L415.49 195.07 L416.45 190.84 L417.42 195.07 L418.38 200.84 L419.34 195.07 L420.3 189.68 L421.26 195.07 L422.22 204.68 L423.38 211.99 L425.3 212.38 L427.22 211.99 L428.38 204.68 L429.53 191.22 L430.68 180.65 L431.45 178.72 L432.42 187.38 L433.57 202.76 L434.92 218.15 L436.45 224.88 L438.38 227.76 L439.72 229.68 L440.68 235.45 L442.03 242.18 L444.15 245.07 L447.99 245.65 L447.9 247.1 L375 247.1 Z" fill="#e7e7e7" stroke="none"/>
<path d="M375.3 245.65 L384.92 245.45 L388.76 244.68 L392.61 245.45 L402.22 245.07 L405.11 242.18 L407.03 235.45 L408.95 225.84 L410.88 220.07 L412.8 214.3 L414.34 206.61 L415.49 195.07 L416.45 190.84 L417.42 195.07 L418.38 200.84 L419.34 195.07 L420.3 189.68 L421.26 195.07 L422.22 204.68 L423.38 211.99 L425.3 212.38 L427.22 211.99 L428.38 204.68 L429.53 191.22 L430.68 180.65 L431.45 178.72 L432.42 187.38 L433.57 202.76 L434.92 218.15 L436.45 224.88 L438.38 227.76 L439.72 229.68 L440.68 235.45 L442.03 242.18 L444.15 245.07 L447.99 245.65" fill="none" stroke="#383838" stroke-width="1.05" stroke-linejoin="round"/>
<text x="425.96" y="186.15" font-size="4.3" fill="#6e6e6e" stroke="#6e6e6e" stroke-width="0.15">21.9%</text>
<line x1="427.96" y1="189.55" x2="433.76" y2="189.55" stroke="#3a3a3a" stroke-width="0.8"/>
<line x1="427.96" y1="188.65" x2="427.96" y2="190.45" stroke="#3a3a3a" stroke-width="0.8"/>
<line x1="433.76" y1="188.65" x2="433.76" y2="190.45" stroke="#3a3a3a" stroke-width="0.8"/>
<text x="423.08" y="192.88" font-size="4.3" fill="#6e6e6e" stroke="#6e6e6e" stroke-width="0.15">14.2%</text>
<line x1="425.08" y1="196.28" x2="430.88" y2="196.28" stroke="#3a3a3a" stroke-width="0.8"/>
<line x1="425.08" y1="195.38" x2="425.08" y2="197.18" stroke="#3a3a3a" stroke-width="0.8"/>
<line x1="430.88" y1="195.38" x2="430.88" y2="197.18" stroke="#3a3a3a" stroke-width="0.8"/>
<text x="417.69" y="199.62" font-size="4.3" fill="#6e6e6e" stroke="#6e6e6e" stroke-width="0.15">15.7%</text>
<line x1="419.69" y1="203.02" x2="425.49" y2="203.02" stroke="#3a3a3a" stroke-width="0.8"/>
<line x1="419.69" y1="202.12" x2="419.69" y2="203.92" stroke="#3a3a3a" stroke-width="0.8"/>
<line x1="425.49" y1="202.12" x2="425.49" y2="203.92" stroke="#3a3a3a" stroke-width="0.8"/>
<text x="409.62" y="208.27" font-size="4.3" fill="#6e6e6e" stroke="#6e6e6e" stroke-width="0.15">18.%</text>
<line x1="411.62" y1="211.67" x2="417.42" y2="211.67" stroke="#3a3a3a" stroke-width="0.8"/>
<line x1="411.62" y1="210.77" x2="411.62" y2="212.57" stroke="#3a3a3a" stroke-width="0.8"/>
<line x1="417.42" y1="210.77" x2="417.42" y2="212.57" stroke="#3a3a3a" stroke-width="0.8"/>
<text x="404.81" y="215" font-size="4.3" fill="#6e6e6e" stroke="#6e6e6e" stroke-width="0.15">9.09%</text>
<line x1="406.81" y1="218.4" x2="412.61" y2="218.4" stroke="#3a3a3a" stroke-width="0.8"/>
<line x1="406.81" y1="217.5" x2="406.81" y2="219.3" stroke="#3a3a3a" stroke-width="0.8"/>
<line x1="412.61" y1="217.5" x2="412.61" y2="219.3" stroke="#3a3a3a" stroke-width="0.8"/>
<text x="400.38" y="222.69" font-size="4.3" fill="#6e6e6e" stroke="#6e6e6e" stroke-width="0.15">1.77%</text>
<line x1="402.38" y1="226.09" x2="408.18" y2="226.09" stroke="#3a3a3a" stroke-width="0.8"/>
<line x1="402.38" y1="225.19" x2="402.38" y2="226.99" stroke="#3a3a3a" stroke-width="0.8"/>
<line x1="408.18" y1="225.19" x2="408.18" y2="226.99" stroke="#3a3a3a" stroke-width="0.8"/>
<rect x="375" y="174.4" width="72.9" height="72.7" fill="none" stroke="#454545" stroke-width="1.3"/>
<line x1="373.4" y1="176.54" x2="375" y2="176.54" stroke="#4a4a4a" stroke-width="0.8"/>
<line x1="373.4" y1="180.72" x2="375" y2="180.72" stroke="#4a4a4a" stroke-width="0.8"/>
<line x1="371.8" y1="184.9" x2="375" y2="184.9" stroke="#4a4a4a" stroke-width="0.8"/>
<line x1="373.4" y1="189.08" x2="375" y2="189.08" stroke="#4a4a4a" stroke-width="0.8"/>
<line x1="373.4" y1="193.26" x2="375" y2="193.26" stroke="#4a4a4a" stroke-width="0.8"/>
<line x1="373.4" y1="197.44" x2="375" y2="197.44" stroke="#4a4a4a" stroke-width="0.8"/>
<line x1="373.4" y1="201.62" x2="375" y2="201.62" stroke="#4a4a4a" stroke-width="0.8"/>
<line x1="371.8" y1="205.8" x2="375" y2="205.8" stroke="#4a4a4a" stroke-width="0.8"/>
<line x1="373.4" y1="209.98" x2="375" y2="209.98" stroke="#4a4a4a" stroke-width="0.8"/>
<line x1="373.4" y1="214.16" x2="375" y2="214.16" stroke="#4a4a4a" stroke-width="0.8"/>
<line x1="373.4" y1="218.34" x2="375" y2="218.34" stroke="#4a4a4a" stroke-width="0.8"/>
<line x1="373.4" y1="222.52" x2="375" y2="222.52" stroke="#4a4a4a" stroke-width="0.8"/>
<line x1="371.8" y1="226.7" x2="375" y2="226.7" stroke="#4a4a4a" stroke-width="0.8"/>
<line x1="373.4" y1="230.88" x2="375" y2="230.88" stroke="#4a4a4a" stroke-width="0.8"/>
<line x1="373.4" y1="235.06" x2="375" y2="235.06" stroke="#4a4a4a" stroke-width="0.8"/>
<line x1="373.4" y1="239.24" x2="375" y2="239.24" stroke="#4a4a4a" stroke-width="0.8"/>
<line x1="373.4" y1="243.42" x2="375" y2="243.42" stroke="#4a4a4a" stroke-width="0.8"/>
<line x1="379.74" y1="247.1" x2="379.74" y2="250.1" stroke="#444" stroke-width="0.9"/>
<line x1="390.31" y1="247.1" x2="390.31" y2="250.1" stroke="#444" stroke-width="0.9"/>
<line x1="407.81" y1="247.1" x2="407.81" y2="250.1" stroke="#444" stroke-width="0.9"/>
<line x1="425.3" y1="247.1" x2="425.3" y2="250.1" stroke="#444" stroke-width="0.9"/>
<line x1="442.07" y1="247.1" x2="442.07" y2="250.1" stroke="#444" stroke-width="0.9"/>
<line x1="382.92" y1="247.1" x2="382.92" y2="248.8" stroke="#505050" stroke-width="0.6"/>
<line x1="384.78" y1="247.1" x2="384.78" y2="248.8" stroke="#505050" stroke-width="0.6"/>
<line x1="386.1" y1="247.1" x2="386.1" y2="248.8" stroke="#505050" stroke-width="0.6"/>
<line x1="387.13" y1="247.1" x2="387.13" y2="248.8" stroke="#505050" stroke-width="0.6"/>
<line x1="387.96" y1="247.1" x2="387.96" y2="248.8" stroke="#505050" stroke-width="0.6"/>
<line x1="388.67" y1="247.1" x2="388.67" y2="248.8" stroke="#505050" stroke-width="0.6"/>
<line x1="389.28" y1="247.1" x2="389.28" y2="248.8" stroke="#505050" stroke-width="0.6"/>
<line x1="389.83" y1="247.1" x2="389.83" y2="248.8" stroke="#505050" stroke-width="0.6"/>
<line x1="395.58" y1="247.1" x2="395.58" y2="248.8" stroke="#505050" stroke-width="0.6"/>
<line x1="398.66" y1="247.1" x2="398.66" y2="248.8" stroke="#505050" stroke-width="0.6"/>
<line x1="400.84" y1="247.1" x2="400.84" y2="248.8" stroke="#505050" stroke-width="0.6"/>
<line x1="402.54" y1="247.1" x2="402.54" y2="248.8" stroke="#505050" stroke-width="0.6"/>
<line x1="403.92" y1="247.1" x2="403.92" y2="248.8" stroke="#505050" stroke-width="0.6"/>
<line x1="405.09" y1="247.1" x2="405.09" y2="248.8" stroke="#505050" stroke-width="0.6"/>
<line x1="406.11" y1="247.1" x2="406.11" y2="248.8" stroke="#505050" stroke-width="0.6"/>
<line x1="407" y1="247.1" x2="407" y2="248.8" stroke="#505050" stroke-width="0.6"/>
<line x1="413.07" y1="247.1" x2="413.07" y2="248.8" stroke="#505050" stroke-width="0.6"/>
<line x1="416.15" y1="247.1" x2="416.15" y2="248.8" stroke="#505050" stroke-width="0.6"/>
<line x1="418.34" y1="247.1" x2="418.34" y2="248.8" stroke="#505050" stroke-width="0.6"/>
<line x1="420.03" y1="247.1" x2="420.03" y2="248.8" stroke="#505050" stroke-width="0.6"/>
<line x1="421.42" y1="247.1" x2="421.42" y2="248.8" stroke="#505050" stroke-width="0.6"/>
<line x1="422.59" y1="247.1" x2="422.59" y2="248.8" stroke="#505050" stroke-width="0.6"/>
<line x1="423.61" y1="247.1" x2="423.61" y2="248.8" stroke="#505050" stroke-width="0.6"/>
<line x1="424.5" y1="247.1" x2="424.5" y2="248.8" stroke="#505050" stroke-width="0.6"/>
<line x1="430.35" y1="247.1" x2="430.35" y2="248.8" stroke="#505050" stroke-width="0.6"/>
<line x1="433.3" y1="247.1" x2="433.3" y2="248.8" stroke="#505050" stroke-width="0.6"/>
<line x1="435.4" y1="247.1" x2="435.4" y2="248.8" stroke="#505050" stroke-width="0.6"/>
<line x1="437.02" y1="247.1" x2="437.02" y2="248.8" stroke="#505050" stroke-width="0.6"/>
<line x1="438.35" y1="247.1" x2="438.35" y2="248.8" stroke="#505050" stroke-width="0.6"/>
<line x1="439.47" y1="247.1" x2="439.47" y2="248.8" stroke="#505050" stroke-width="0.6"/>
<line x1="440.44" y1="247.1" x2="440.44" y2="248.8" stroke="#505050" stroke-width="0.6"/>
<line x1="441.3" y1="247.1" x2="441.3" y2="248.8" stroke="#505050" stroke-width="0.6"/>
<line x1="375.87" y1="247.1" x2="375.87" y2="248.8" stroke="#505050" stroke-width="0.6"/>
<line x1="377.41" y1="247.1" x2="377.41" y2="248.8" stroke="#505050" stroke-width="0.6"/>
<line x1="378.94" y1="247.1" x2="378.94" y2="248.8" stroke="#505050" stroke-width="0.6"/>
<line x1="380.47" y1="247.1" x2="380.47" y2="248.8" stroke="#505050" stroke-width="0.6"/>
<line x1="382" y1="247.1" x2="382" y2="248.8" stroke="#505050" stroke-width="0.6"/>
<line x1="383.53" y1="247.1" x2="383.53" y2="248.8" stroke="#505050" stroke-width="0.6"/>
<line x1="385.06" y1="247.1" x2="385.06" y2="248.8" stroke="#505050" stroke-width="0.6"/>
<line x1="386.59" y1="247.1" x2="386.59" y2="248.8" stroke="#505050" stroke-width="0.6"/>
<line x1="388.12" y1="247.1" x2="388.12" y2="248.8" stroke="#505050" stroke-width="0.6"/>
<line x1="389.65" y1="247.1" x2="389.65" y2="248.8" stroke="#505050" stroke-width="0.6"/>
<text x="379.7" y="260.2" font-size="8.4" fill="#303030" stroke="#303030" stroke-width="0.15" text-anchor="middle" textLength="3.9" lengthAdjust="spacingAndGlyphs">0</text>
<text x="384.9" y="260.2" font-size="8.4" fill="#303030" stroke="#303030" stroke-width="0.15" textLength="7.7" lengthAdjust="spacingAndGlyphs">10</text>
<text x="393.1" y="256.9" font-size="5.6" fill="#303030" stroke="#303030" stroke-width="0.15" textLength="2.9" lengthAdjust="spacingAndGlyphs">2</text>
<text x="402.7" y="260.2" font-size="8.4" fill="#303030" stroke="#303030" stroke-width="0.15" textLength="7.7" lengthAdjust="spacingAndGlyphs">10</text>
<text x="410.9" y="256.9" font-size="5.6" fill="#303030" stroke="#303030" stroke-width="0.15" textLength="2.9" lengthAdjust="spacingAndGlyphs">3</text>
<text x="420" y="260.2" font-size="8.4" fill="#303030" stroke="#303030" stroke-width="0.15" textLength="7.7" lengthAdjust="spacingAndGlyphs">10</text>
<text x="428.2" y="256.9" font-size="5.6" fill="#303030" stroke="#303030" stroke-width="0.15" textLength="2.9" lengthAdjust="spacingAndGlyphs">4</text>
<text x="435.3" y="260.2" font-size="8.4" fill="#303030" stroke="#303030" stroke-width="0.15" textLength="7.7" lengthAdjust="spacingAndGlyphs">10</text>
<text x="443.5" y="256.9" font-size="5.6" fill="#303030" stroke="#303030" stroke-width="0.15" textLength="2.9" lengthAdjust="spacingAndGlyphs">5</text>
<text x="0" y="0" transform="translate(365.9,211.05) rotate(-90)" font-size="10" text-anchor="middle" font-weight="normal" fill="#222" stroke="#222" stroke-width="0.22">Count</text>
<text x="140.4" y="28.8" font-size="9.9" font-weight="bold" fill="#161616" stroke="#161616" stroke-width="0.25" textLength="18.4" lengthAdjust="spacingAndGlyphs">CD4</text>
<rect x="160.6" y="22.7" width="2.2" height="0.9" fill="#222"/>
<rect x="161.1" y="27.3" width="1.3" height="1.4" fill="#222"/>
<text x="166" y="28.8" font-size="9.9" font-weight="bold" fill="#161616" stroke="#161616" stroke-width="0.25" textLength="55.2" lengthAdjust="spacingAndGlyphs">Total CD19+</text>
<text x="181" y="40" font-size="9.9" text-anchor="middle" font-weight="bold" fill="#161616" stroke="#161616" stroke-width="0.25">B cells</text>
<text x="254.1" y="28.8" font-size="9.9" font-weight="bold" fill="#161616" stroke="#161616" stroke-width="0.25" textLength="18.4" lengthAdjust="spacingAndGlyphs">CD4</text>
<rect x="274.3" y="22.7" width="2.2" height="0.9" fill="#222"/>
<rect x="274.8" y="27.3" width="1.3" height="1.4" fill="#222"/>
<text x="279.4" y="28.8" font-size="9.9" font-weight="bold" fill="#161616" stroke="#161616" stroke-width="0.25" textLength="53.4" lengthAdjust="spacingAndGlyphs">Transitional</text>
<text x="293.9" y="40" font-size="9.9" text-anchor="middle" font-weight="bold" fill="#161616" stroke="#161616" stroke-width="0.25">B cells</text>
<text x="386.6" y="28.8" font-size="9.9" font-weight="bold" fill="#161616" stroke="#161616" stroke-width="0.25" textLength="18.4" lengthAdjust="spacingAndGlyphs">CD4</text>
<rect x="406.8" y="22.7" width="2.2" height="0.9" fill="#222"/>
<rect x="407.3" y="27.3" width="1.3" height="1.4" fill="#222"/>
<text x="412.2" y="28.8" font-size="9.9" font-weight="bold" fill="#161616" stroke="#161616" stroke-width="0.25" textLength="24.6" lengthAdjust="spacingAndGlyphs">Na&#239;ve</text>
<text x="411.8" y="40" font-size="9.9" text-anchor="middle" font-weight="bold" fill="#161616" stroke="#161616" stroke-width="0.25">B cells</text>
<text x="140.4" y="157.1" font-size="9.9" font-weight="bold" fill="#161616" stroke="#161616" stroke-width="0.25" textLength="18.4" lengthAdjust="spacingAndGlyphs">CD4</text>
<rect x="160.6" y="151" width="2.2" height="0.9" fill="#222"/>
<rect x="161.1" y="155.6" width="1.3" height="1.4" fill="#222"/>
<text x="166" y="157.1" font-size="9.9" font-weight="bold" fill="#161616" stroke="#161616" stroke-width="0.25" textLength="55.2" lengthAdjust="spacingAndGlyphs">Total CD19+</text>
<text x="181" y="168.3" font-size="9.9" text-anchor="middle" font-weight="bold" fill="#161616" stroke="#161616" stroke-width="0.25">B cells</text>
<text x="254.1" y="157.1" font-size="9.9" font-weight="bold" fill="#161616" stroke="#161616" stroke-width="0.25" textLength="18.4" lengthAdjust="spacingAndGlyphs">CD4</text>
<rect x="274.3" y="151" width="2.2" height="0.9" fill="#222"/>
<rect x="274.8" y="155.6" width="1.3" height="1.4" fill="#222"/>
<text x="279.4" y="157.1" font-size="9.9" font-weight="bold" fill="#161616" stroke="#161616" stroke-width="0.25" textLength="53.4" lengthAdjust="spacingAndGlyphs">Transitional</text>
<text x="293.9" y="168.3" font-size="9.9" text-anchor="middle" font-weight="bold" fill="#161616" stroke="#161616" stroke-width="0.25">B cells</text>
<text x="386.6" y="157.1" font-size="9.9" font-weight="bold" fill="#161616" stroke="#161616" stroke-width="0.25" textLength="18.4" lengthAdjust="spacingAndGlyphs">CD4</text>
<rect x="406.8" y="151" width="2.2" height="0.9" fill="#222"/>
<rect x="407.3" y="155.6" width="1.3" height="1.4" fill="#222"/>
<text x="412.2" y="157.1" font-size="9.9" font-weight="bold" fill="#161616" stroke="#161616" stroke-width="0.25" textLength="24.6" lengthAdjust="spacingAndGlyphs">Na&#239;ve</text>
<text x="411.8" y="168.3" font-size="9.9" text-anchor="middle" font-weight="bold" fill="#161616" stroke="#161616" stroke-width="0.25">B cells</text>
<text x="451.6" y="81.4" font-size="10" text-anchor="start" font-weight="normal" fill="#2a2a2a" stroke="#2a2a2a" stroke-width="0.22">Direct Contact</text>
<text x="451.8" y="214.2" font-size="10" text-anchor="start" font-weight="normal" fill="#2a2a2a" stroke="#2a2a2a" stroke-width="0.22">Transwell</text>
<line x1="68.8" y1="317.4" x2="68.8" y2="421.4" stroke="#484848" stroke-width="1.35"/>
<line x1="66" y1="320" x2="68.8" y2="320" stroke="#484848" stroke-width="1.1"/>
<text x="0" y="0" transform="translate(63.6,323.32) scale(0.97,1)" font-size="8.4" text-anchor="end" font-weight="normal" fill="#2e2e2e" stroke="#2e2e2e" stroke-width="0.22">100</text>
<line x1="66" y1="340.16" x2="68.8" y2="340.16" stroke="#484848" stroke-width="1.1"/>
<text x="0" y="0" transform="translate(63.6,343.48) scale(0.97,1)" font-size="8.4" text-anchor="end" font-weight="normal" fill="#2e2e2e" stroke="#2e2e2e" stroke-width="0.22">80</text>
<line x1="66" y1="360.32" x2="68.8" y2="360.32" stroke="#484848" stroke-width="1.1"/>
<text x="0" y="0" transform="translate(63.6,363.64) scale(0.97,1)" font-size="8.4" text-anchor="end" font-weight="normal" fill="#2e2e2e" stroke="#2e2e2e" stroke-width="0.22">60</text>
<line x1="66" y1="380.48" x2="68.8" y2="380.48" stroke="#484848" stroke-width="1.1"/>
<text x="0" y="0" transform="translate(63.6,383.8) scale(0.97,1)" font-size="8.4" text-anchor="end" font-weight="normal" fill="#2e2e2e" stroke="#2e2e2e" stroke-width="0.22">40</text>
<line x1="66" y1="400.64" x2="68.8" y2="400.64" stroke="#484848" stroke-width="1.1"/>
<text x="0" y="0" transform="translate(63.6,403.96) scale(0.97,1)" font-size="8.4" text-anchor="end" font-weight="normal" fill="#2e2e2e" stroke="#2e2e2e" stroke-width="0.22">20</text>
<line x1="66" y1="420.8" x2="68.8" y2="420.8" stroke="#484848" stroke-width="1.1"/>
<text x="0" y="0" transform="translate(63.6,424.12) scale(0.97,1)" font-size="8.4" text-anchor="end" font-weight="normal" fill="#2e2e2e" stroke="#2e2e2e" stroke-width="0.22">0</text>
<line x1="68.2" y1="420.8" x2="219.2" y2="420.8" stroke="#484848" stroke-width="1.35"/>
<line x1="88.4" y1="420.8" x2="88.4" y2="423.4" stroke="#484848" stroke-width="0.9"/>
<line x1="125.8" y1="420.8" x2="125.8" y2="423.4" stroke="#484848" stroke-width="0.9"/>
<line x1="163.2" y1="420.8" x2="163.2" y2="423.4" stroke="#484848" stroke-width="0.9"/>
<line x1="200.8" y1="420.8" x2="200.8" y2="423.4" stroke="#484848" stroke-width="0.9"/>
<line x1="81.05" y1="322.5" x2="81.05" y2="330.8" stroke="#333" stroke-width="1.3"/>
<line x1="78.25" y1="322.8" x2="83.85" y2="322.8" stroke="#333" stroke-width="1.3"/>
<rect x="75.8" y="330.5" width="10.5" height="90.3" fill="#1c1c1c"/>
<line x1="118.8" y1="352.5" x2="118.8" y2="358.6" stroke="#4d4d4d" stroke-width="1.3"/>
<line x1="116" y1="352.8" x2="121.6" y2="352.8" stroke="#4d4d4d" stroke-width="1.3"/>
<rect x="113.8" y="358.3" width="10" height="62.5" fill="#666666"/>
<line x1="133" y1="340.5" x2="133" y2="345.8" stroke="#4d4d4d" stroke-width="1.3"/>
<line x1="130.2" y1="340.8" x2="135.8" y2="340.8" stroke="#4d4d4d" stroke-width="1.3"/>
<rect x="128" y="345.5" width="10" height="75.3" fill="#666666"/>
<line x1="156.5" y1="355" x2="156.5" y2="364.1" stroke="#585858" stroke-width="1.3"/>
<line x1="153.7" y1="355.3" x2="159.3" y2="355.3" stroke="#585858" stroke-width="1.3"/>
<rect x="151.3" y="363.8" width="10.4" height="57" fill="#9a9a9a"/>
<line x1="171" y1="345.8" x2="171" y2="350.8" stroke="#585858" stroke-width="1.3"/>
<line x1="168.2" y1="346.1" x2="173.8" y2="346.1" stroke="#585858" stroke-width="1.3"/>
<rect x="165.8" y="350.5" width="10.4" height="70.3" fill="#9a9a9a"/>
<line x1="194.55" y1="348" x2="194.55" y2="354.8" stroke="#5e5e5e" stroke-width="1.3"/>
<line x1="191.75" y1="348.3" x2="197.35" y2="348.3" stroke="#5e5e5e" stroke-width="1.3"/>
<rect x="189.5" y="354.5" width="10.1" height="66.3" fill="#d2d2d2"/>
<line x1="209" y1="336.8" x2="209" y2="343.3" stroke="#5e5e5e" stroke-width="1.3"/>
<line x1="206.2" y1="337.1" x2="211.8" y2="337.1" stroke="#5e5e5e" stroke-width="1.3"/>
<rect x="203.8" y="343" width="10.4" height="77.8" fill="#d2d2d2"/>
<line x1="81.3" y1="293.7" x2="206.3" y2="293.7" stroke="#484848" stroke-width="1.2"/>
<line x1="81.3" y1="303.2" x2="167.5" y2="303.2" stroke="#484848" stroke-width="1.2"/>
<line x1="83.3" y1="313.4" x2="130" y2="313.4" stroke="#484848" stroke-width="1.2"/>
<line x1="115" y1="330" x2="136.3" y2="330" stroke="#484848" stroke-width="1.2"/>
<line x1="155" y1="329.6" x2="176.3" y2="329.6" stroke="#484848" stroke-width="1.2"/>
<line x1="190" y1="330.8" x2="211.3" y2="330.8" stroke="#484848" stroke-width="1.2"/>
<circle cx="143.8" cy="288" r="1.15" fill="#333"/>
<circle cx="124.5" cy="298" r="1.15" fill="#333"/>
<circle cx="107" cy="308" r="1.15" fill="#333"/>
<circle cx="125.5" cy="324.5" r="1.15" fill="#333"/>
<circle cx="165.5" cy="324.5" r="1.15" fill="#333"/>
<circle cx="200.8" cy="325.5" r="1.15" fill="#333"/>
<text x="24.1" y="434.2" font-size="8.3" text-anchor="start" font-weight="normal" fill="#2e2e2e" stroke="#2e2e2e" stroke-width="0.22">Transwell</text>
<line x1="130.7" y1="431.8" x2="134.9" y2="431.8" stroke="#3c3c3c" stroke-width="0.85"/>
<line x1="132.8" y1="429.7" x2="132.8" y2="433.9" stroke="#3c3c3c" stroke-width="0.85"/>
<line x1="168" y1="431.8" x2="172.2" y2="431.8" stroke="#3c3c3c" stroke-width="0.85"/>
<line x1="170.1" y1="429.7" x2="170.1" y2="433.9" stroke="#3c3c3c" stroke-width="0.85"/>
<line x1="206" y1="431.8" x2="210.2" y2="431.8" stroke="#3c3c3c" stroke-width="0.85"/>
<line x1="208.1" y1="429.7" x2="208.1" y2="433.9" stroke="#3c3c3c" stroke-width="0.85"/>
<text transform="translate(42.8,425.6) rotate(-90)" font-size="9.2" fill="#2e2e2e" stroke="#2e2e2e" stroke-width="0.25" textLength="113.5" lengthAdjust="spacingAndGlyphs">% of CD4+ T cell proliferation</text>
<rect x="226.3" y="304.1" width="10" height="4.8" fill="#1c1c1c"/>
<text x="239.3" y="309.2" font-size="7.6" text-anchor="start" font-weight="normal" fill="#2e2e2e" stroke="#2e2e2e" stroke-width="0.22">Positive control</text>
<rect x="226.3" y="313.2" width="10" height="4.8" fill="#666666"/>
<text x="239.3" y="318.3" font-size="7.6" text-anchor="start" font-weight="normal" fill="#2e2e2e" stroke="#2e2e2e" stroke-width="0.22">Total B cells</text>
<rect x="226.3" y="322.4" width="10" height="4.8" fill="#9a9a9a"/>
<text x="239.3" y="327.5" font-size="7.6" text-anchor="start" font-weight="normal" fill="#2e2e2e" stroke="#2e2e2e" stroke-width="0.22">Transitional B cells</text>
<rect x="226.3" y="331.6" width="10" height="4.8" fill="#d2d2d2"/>
<text x="239.3" y="336.7" font-size="7.6" text-anchor="start" font-weight="normal" fill="#2e2e2e" stroke="#2e2e2e" stroke-width="0.22">Na&#239;ve B cells</text>
<text x="8.2" y="462.1" font-size="11.9" text-anchor="start" font-weight="bold" fill="#111" stroke="#111" stroke-width="0.22">B</text>
<rect x="98.8" y="456.4" width="9.2" height="4.3" fill="#1c1c1c"/>
<text x="111.3" y="461.4" font-size="7.6" text-anchor="start" font-weight="normal" fill="#2e2e2e" stroke="#2e2e2e" stroke-width="0.22">Positive Control</text>
<rect x="179" y="456.4" width="9.2" height="4.3" fill="#666666"/>
<text x="191.2" y="461.4" font-size="7.6" text-anchor="start" font-weight="normal" fill="#2e2e2e" stroke="#2e2e2e" stroke-width="0.22">Total CD19+ B cells</text>
<rect x="274" y="456.4" width="9.2" height="4.3" fill="#9a9a9a"/>
<text x="286.6" y="461.4" font-size="7.6" text-anchor="start" font-weight="normal" fill="#2e2e2e" stroke="#2e2e2e" stroke-width="0.22">Transitional B cells</text>
<rect x="366" y="456.4" width="9.2" height="4.3" fill="#d2d2d2"/>
<text x="378" y="461.4" font-size="7.6" text-anchor="start" font-weight="normal" fill="#2e2e2e" stroke="#2e2e2e" stroke-width="0.22">Naive B cells</text>
<line x1="48.2" y1="483.6" x2="48.2" y2="561.8" stroke="#484848" stroke-width="1.35"/>
<line x1="45.4" y1="486.2" x2="48.2" y2="486.2" stroke="#484848" stroke-width="1.1"/>
<text x="0" y="0" transform="translate(41.6,489.49) scale(0.93,1)" font-size="8.3" text-anchor="end" font-weight="normal" fill="#2e2e2e" stroke="#2e2e2e" stroke-width="0.22">1500</text>
<line x1="45.4" y1="511.2" x2="48.2" y2="511.2" stroke="#484848" stroke-width="1.1"/>
<text x="0" y="0" transform="translate(41.6,514.49) scale(0.93,1)" font-size="8.3" text-anchor="end" font-weight="normal" fill="#2e2e2e" stroke="#2e2e2e" stroke-width="0.22">1000</text>
<line x1="45.4" y1="536.2" x2="48.2" y2="536.2" stroke="#484848" stroke-width="1.1"/>
<text x="0" y="0" transform="translate(41.6,539.49) scale(0.93,1)" font-size="8.3" text-anchor="end" font-weight="normal" fill="#2e2e2e" stroke="#2e2e2e" stroke-width="0.22">500</text>
<line x1="45.4" y1="561.2" x2="48.2" y2="561.2" stroke="#484848" stroke-width="1.1"/>
<text x="0" y="0" transform="translate(41.6,564.49) scale(0.93,1)" font-size="8.3" text-anchor="end" font-weight="normal" fill="#2e2e2e" stroke="#2e2e2e" stroke-width="0.22">0</text>
<line x1="47.6" y1="561.2" x2="159.5" y2="561.2" stroke="#484848" stroke-width="1.35"/>
<line x1="62" y1="561.2" x2="62" y2="563.8" stroke="#484848" stroke-width="0.9"/>
<line x1="89.8" y1="561.2" x2="89.8" y2="563.8" stroke="#484848" stroke-width="0.9"/>
<line x1="117.8" y1="561.2" x2="117.8" y2="563.8" stroke="#484848" stroke-width="0.9"/>
<line x1="146" y1="561.2" x2="146" y2="563.8" stroke="#484848" stroke-width="0.9"/>
<rect x="53" y="508.8" width="7.8" height="52.4" fill="#1c1c1c"/>
<line x1="85.05" y1="525.5" x2="85.05" y2="531.6" stroke="#4d4d4d" stroke-width="1.3"/>
<line x1="82.85" y1="525.8" x2="87.25" y2="525.8" stroke="#4d4d4d" stroke-width="1.3"/>
<rect x="81.3" y="531.3" width="7.5" height="29.9" fill="#666666"/>
<line x1="95.05" y1="518" x2="95.05" y2="521.1" stroke="#4d4d4d" stroke-width="1.3"/>
<line x1="92.85" y1="518.3" x2="97.25" y2="518.3" stroke="#4d4d4d" stroke-width="1.3"/>
<rect x="91.3" y="520.8" width="7.5" height="40.4" fill="#666666"/>
<line x1="113.1" y1="530.5" x2="113.1" y2="535.3" stroke="#585858" stroke-width="1.3"/>
<line x1="110.9" y1="530.8" x2="115.3" y2="530.8" stroke="#585858" stroke-width="1.3"/>
<rect x="109.6" y="535" width="7" height="26.2" fill="#9a9a9a"/>
<line x1="123.25" y1="520.8" x2="123.25" y2="524.8" stroke="#585858" stroke-width="1.3"/>
<line x1="121.05" y1="521.1" x2="125.45" y2="521.1" stroke="#585858" stroke-width="1.3"/>
<rect x="119.5" y="524.5" width="7.5" height="36.7" fill="#9a9a9a"/>
<line x1="141.05" y1="525.5" x2="141.05" y2="529.8" stroke="#5e5e5e" stroke-width="1.3"/>
<line x1="138.85" y1="525.8" x2="143.25" y2="525.8" stroke="#5e5e5e" stroke-width="1.3"/>
<rect x="137.5" y="529.5" width="7.1" height="31.7" fill="#d2d2d2"/>
<line x1="151.75" y1="517.5" x2="151.75" y2="522.8" stroke="#5e5e5e" stroke-width="1.3"/>
<line x1="149.55" y1="517.8" x2="153.95" y2="517.8" stroke="#5e5e5e" stroke-width="1.3"/>
<rect x="148" y="522.5" width="7.5" height="38.7" fill="#d2d2d2"/>
<line x1="57.5" y1="474.2" x2="151.3" y2="474.2" stroke="#484848" stroke-width="1.2"/>
<line x1="57.5" y1="485.6" x2="123.8" y2="485.6" stroke="#484848" stroke-width="1.2"/>
<line x1="57.5" y1="495.1" x2="96.3" y2="495.1" stroke="#484848" stroke-width="1.2"/>
<line x1="82.5" y1="507.3" x2="98" y2="507.3" stroke="#484848" stroke-width="1.2"/>
<line x1="110.5" y1="507.3" x2="127" y2="507.3" stroke="#484848" stroke-width="1.2"/>
<line x1="137" y1="507.3" x2="152.5" y2="507.3" stroke="#484848" stroke-width="1.2"/>
<circle cx="103.8" cy="469.5" r="1.15" fill="#333"/>
<circle cx="90.5" cy="480" r="1.15" fill="#333"/>
<circle cx="77" cy="490" r="1.15" fill="#333"/>
<circle cx="90.5" cy="502" r="1.15" fill="#333"/>
<circle cx="118.8" cy="502" r="1.15" fill="#333"/>
<circle cx="145" cy="502" r="1.15" fill="#333"/>
<text x="23" y="575.2" font-size="8.15" text-anchor="start" font-weight="normal" fill="#2e2e2e" stroke="#2e2e2e" stroke-width="0.22">Transwell</text>
<line x1="92.9" y1="572.6" x2="97.1" y2="572.6" stroke="#3c3c3c" stroke-width="0.85"/>
<line x1="95" y1="570.5" x2="95" y2="574.7" stroke="#3c3c3c" stroke-width="0.85"/>
<line x1="120.9" y1="572.6" x2="125.1" y2="572.6" stroke="#3c3c3c" stroke-width="0.85"/>
<line x1="123" y1="570.5" x2="123" y2="574.7" stroke="#3c3c3c" stroke-width="0.85"/>
<line x1="149.2" y1="572.6" x2="153.4" y2="572.6" stroke="#3c3c3c" stroke-width="0.85"/>
<line x1="151.3" y1="570.5" x2="151.3" y2="574.7" stroke="#3c3c3c" stroke-width="0.85"/>
<text transform="translate(17.4,546.6) rotate(-90)" font-size="9.6" fill="#2e2e2e" stroke="#2e2e2e" stroke-width="0.32" textLength="48" lengthAdjust="spacingAndGlyphs">IFN-&#947; pg/mL</text>
<line x1="224" y1="483.6" x2="224" y2="561.8" stroke="#484848" stroke-width="1.35"/>
<line x1="221.2" y1="486.2" x2="224" y2="486.2" stroke="#484848" stroke-width="1.1"/>
<text x="0" y="0" transform="translate(217.4,489.49) scale(0.93,1)" font-size="8.3" text-anchor="end" font-weight="normal" fill="#2e2e2e" stroke="#2e2e2e" stroke-width="0.22">15000</text>
<line x1="221.2" y1="511.2" x2="224" y2="511.2" stroke="#484848" stroke-width="1.1"/>
<text x="0" y="0" transform="translate(217.4,514.49) scale(0.93,1)" font-size="8.3" text-anchor="end" font-weight="normal" fill="#2e2e2e" stroke="#2e2e2e" stroke-width="0.22">10000</text>
<line x1="221.2" y1="536.2" x2="224" y2="536.2" stroke="#484848" stroke-width="1.1"/>
<text x="0" y="0" transform="translate(217.4,539.49) scale(0.93,1)" font-size="8.3" text-anchor="end" font-weight="normal" fill="#2e2e2e" stroke="#2e2e2e" stroke-width="0.22">5000</text>
<line x1="221.2" y1="561.2" x2="224" y2="561.2" stroke="#484848" stroke-width="1.1"/>
<text x="0" y="0" transform="translate(217.4,564.49) scale(0.93,1)" font-size="8.3" text-anchor="end" font-weight="normal" fill="#2e2e2e" stroke="#2e2e2e" stroke-width="0.22">0</text>
<line x1="223.4" y1="561.2" x2="335" y2="561.2" stroke="#484848" stroke-width="1.35"/>
<line x1="237" y1="561.2" x2="237" y2="563.8" stroke="#484848" stroke-width="0.9"/>
<line x1="265.8" y1="561.2" x2="265.8" y2="563.8" stroke="#484848" stroke-width="0.9"/>
<line x1="293.8" y1="561.2" x2="293.8" y2="563.8" stroke="#484848" stroke-width="0.9"/>
<line x1="322" y1="561.2" x2="322" y2="563.8" stroke="#484848" stroke-width="0.9"/>
<rect x="228.3" y="511.4" width="8.2" height="49.8" fill="#1c1c1c"/>
<line x1="260.45" y1="520.8" x2="260.45" y2="528" stroke="#4d4d4d" stroke-width="1.3"/>
<line x1="258.25" y1="521.1" x2="262.65" y2="521.1" stroke="#4d4d4d" stroke-width="1.3"/>
<rect x="256.7" y="527.7" width="7.5" height="33.5" fill="#666666"/>
<line x1="270.95" y1="517.6" x2="270.95" y2="522.1" stroke="#4d4d4d" stroke-width="1.3"/>
<line x1="268.75" y1="517.9" x2="273.15" y2="517.9" stroke="#4d4d4d" stroke-width="1.3"/>
<rect x="267.2" y="521.8" width="7.5" height="39.4" fill="#666666"/>
<line x1="288.25" y1="527.4" x2="288.25" y2="533.6" stroke="#585858" stroke-width="1.3"/>
<line x1="286.05" y1="527.7" x2="290.45" y2="527.7" stroke="#585858" stroke-width="1.3"/>
<rect x="284.5" y="533.3" width="7.5" height="27.9" fill="#9a9a9a"/>
<line x1="299.2" y1="519.5" x2="299.2" y2="525.3" stroke="#585858" stroke-width="1.3"/>
<line x1="297" y1="519.8" x2="301.4" y2="519.8" stroke="#585858" stroke-width="1.3"/>
<rect x="295.3" y="525" width="7.8" height="36.2" fill="#9a9a9a"/>
<line x1="316.75" y1="522.8" x2="316.75" y2="527" stroke="#5e5e5e" stroke-width="1.3"/>
<line x1="314.55" y1="523.1" x2="318.95" y2="523.1" stroke="#5e5e5e" stroke-width="1.3"/>
<rect x="313" y="526.7" width="7.5" height="34.5" fill="#d2d2d2"/>
<line x1="327.5" y1="517.6" x2="327.5" y2="521.5" stroke="#5e5e5e" stroke-width="1.3"/>
<line x1="325.3" y1="517.9" x2="329.7" y2="517.9" stroke="#5e5e5e" stroke-width="1.3"/>
<rect x="323.7" y="521.2" width="7.6" height="40" fill="#d2d2d2"/>
<line x1="233.2" y1="474.5" x2="326" y2="474.5" stroke="#484848" stroke-width="1.2"/>
<line x1="233.2" y1="485" x2="298.6" y2="485" stroke="#484848" stroke-width="1.2"/>
<line x1="233.2" y1="494.8" x2="272.4" y2="494.8" stroke="#484848" stroke-width="1.2"/>
<line x1="256.7" y1="506.5" x2="273" y2="506.5" stroke="#484848" stroke-width="1.2"/>
<line x1="284.5" y1="506.5" x2="301.8" y2="506.5" stroke="#484848" stroke-width="1.2"/>
<circle cx="279.6" cy="469.2" r="1.15" fill="#333"/>
<circle cx="265.9" cy="479.3" r="1.15" fill="#333"/>
<circle cx="252.5" cy="489" r="1.15" fill="#333"/>
<circle cx="264.9" cy="501.5" r="1.15" fill="#333"/>
<circle cx="293.3" cy="501.5" r="1.15" fill="#333"/>
<line x1="268.7" y1="572.6" x2="272.9" y2="572.6" stroke="#3c3c3c" stroke-width="0.85"/>
<line x1="270.8" y1="570.5" x2="270.8" y2="574.7" stroke="#3c3c3c" stroke-width="0.85"/>
<line x1="297.1" y1="572.6" x2="301.3" y2="572.6" stroke="#3c3c3c" stroke-width="0.85"/>
<line x1="299.2" y1="570.5" x2="299.2" y2="574.7" stroke="#3c3c3c" stroke-width="0.85"/>
<line x1="325.1" y1="572.6" x2="329.3" y2="572.6" stroke="#3c3c3c" stroke-width="0.85"/>
<line x1="327.2" y1="570.5" x2="327.2" y2="574.7" stroke="#3c3c3c" stroke-width="0.85"/>
<text transform="translate(188.4,548.6) rotate(-90)" font-size="9.6" fill="#2e2e2e" stroke="#2e2e2e" stroke-width="0.32" textLength="52" lengthAdjust="spacingAndGlyphs">TNF-&#945; pg/mL</text>
<line x1="398.9" y1="482.05" x2="398.9" y2="561.8" stroke="#484848" stroke-width="1.35"/>
<line x1="396.1" y1="484.65" x2="398.9" y2="484.65" stroke="#484848" stroke-width="1.1"/>
<text x="0" y="0" transform="translate(392.3,487.94) scale(0.93,1)" font-size="8.3" text-anchor="end" font-weight="normal" fill="#2e2e2e" stroke="#2e2e2e" stroke-width="0.22">15000</text>
<line x1="396.1" y1="510.2" x2="398.9" y2="510.2" stroke="#484848" stroke-width="1.1"/>
<text x="0" y="0" transform="translate(392.3,513.49) scale(0.93,1)" font-size="8.3" text-anchor="end" font-weight="normal" fill="#2e2e2e" stroke="#2e2e2e" stroke-width="0.22">10000</text>
<line x1="396.1" y1="535.75" x2="398.9" y2="535.75" stroke="#484848" stroke-width="1.1"/>
<text x="0" y="0" transform="translate(392.3,539.04) scale(0.93,1)" font-size="8.3" text-anchor="end" font-weight="normal" fill="#2e2e2e" stroke="#2e2e2e" stroke-width="0.22">5000</text>
<line x1="396.1" y1="561.3" x2="398.9" y2="561.3" stroke="#484848" stroke-width="1.1"/>
<text x="0" y="0" transform="translate(392.3,564.59) scale(0.93,1)" font-size="8.3" text-anchor="end" font-weight="normal" fill="#2e2e2e" stroke="#2e2e2e" stroke-width="0.22">0</text>
<line x1="398.3" y1="561.2" x2="513.3" y2="561.2" stroke="#484848" stroke-width="1.35"/>
<line x1="413.5" y1="561.2" x2="413.5" y2="563.8" stroke="#484848" stroke-width="0.9"/>
<line x1="442.3" y1="561.2" x2="442.3" y2="563.8" stroke="#484848" stroke-width="0.9"/>
<line x1="470.8" y1="561.2" x2="470.8" y2="563.8" stroke="#484848" stroke-width="0.9"/>
<line x1="499.5" y1="561.2" x2="499.5" y2="563.8" stroke="#484848" stroke-width="0.9"/>
<rect x="403.9" y="510.8" width="8.4" height="50.4" fill="#1c1c1c"/>
<line x1="437.05" y1="521.7" x2="437.05" y2="529.4" stroke="#4d4d4d" stroke-width="1.3"/>
<line x1="434.85" y1="522" x2="439.25" y2="522" stroke="#4d4d4d" stroke-width="1.3"/>
<rect x="433.2" y="529.1" width="7.7" height="32.1" fill="#666666"/>
<line x1="447.65" y1="515" x2="447.65" y2="518.7" stroke="#4d4d4d" stroke-width="1.3"/>
<line x1="445.45" y1="515.3" x2="449.85" y2="515.3" stroke="#4d4d4d" stroke-width="1.3"/>
<rect x="443.6" y="518.4" width="8.1" height="42.8" fill="#666666"/>
<line x1="465.65" y1="526.8" x2="465.65" y2="532.1" stroke="#585858" stroke-width="1.3"/>
<line x1="463.45" y1="527.1" x2="467.85" y2="527.1" stroke="#585858" stroke-width="1.3"/>
<rect x="461.8" y="531.8" width="7.7" height="29.4" fill="#9a9a9a"/>
<line x1="476.25" y1="520" x2="476.25" y2="523.7" stroke="#585858" stroke-width="1.3"/>
<line x1="474.05" y1="520.3" x2="478.45" y2="520.3" stroke="#585858" stroke-width="1.3"/>
<rect x="472.2" y="523.4" width="8.1" height="37.8" fill="#9a9a9a"/>
<line x1="494.25" y1="529.1" x2="494.25" y2="530.5" stroke="#5e5e5e" stroke-width="1.3"/>
<line x1="492.05" y1="529.4" x2="496.45" y2="529.4" stroke="#5e5e5e" stroke-width="1.3"/>
<rect x="490.4" y="530.2" width="7.7" height="31" fill="#d2d2d2"/>
<line x1="504.85" y1="517.4" x2="504.85" y2="520" stroke="#5e5e5e" stroke-width="1.3"/>
<line x1="502.65" y1="517.7" x2="507.05" y2="517.7" stroke="#5e5e5e" stroke-width="1.3"/>
<rect x="500.8" y="519.7" width="8.1" height="41.5" fill="#d2d2d2"/>
<line x1="409" y1="474.6" x2="503.2" y2="474.6" stroke="#484848" stroke-width="1.2"/>
<line x1="409" y1="484.8" x2="474.6" y2="484.8" stroke="#484848" stroke-width="1.2"/>
<line x1="409" y1="494.8" x2="447" y2="494.8" stroke="#484848" stroke-width="1.2"/>
<line x1="431.8" y1="507.2" x2="447.7" y2="507.2" stroke="#484848" stroke-width="1.2"/>
<line x1="460.1" y1="507.2" x2="476.3" y2="507.2" stroke="#484848" stroke-width="1.2"/>
<line x1="488" y1="507.2" x2="503.9" y2="507.2" stroke="#484848" stroke-width="1.2"/>
<circle cx="455.4" cy="469.2" r="1.15" fill="#333"/>
<circle cx="441.9" cy="479.3" r="1.15" fill="#333"/>
<circle cx="428.5" cy="489" r="1.15" fill="#333"/>
<circle cx="439.9" cy="501.8" r="1.15" fill="#333"/>
<circle cx="467.9" cy="501.8" r="1.15" fill="#333"/>
<circle cx="496.5" cy="501.8" r="1.15" fill="#333"/>
<line x1="444.7" y1="572.8" x2="448.9" y2="572.8" stroke="#3c3c3c" stroke-width="0.85"/>
<line x1="446.8" y1="570.7" x2="446.8" y2="574.9" stroke="#3c3c3c" stroke-width="0.85"/>
<line x1="473.5" y1="572.8" x2="477.7" y2="572.8" stroke="#3c3c3c" stroke-width="0.85"/>
<line x1="475.6" y1="570.7" x2="475.6" y2="574.9" stroke="#3c3c3c" stroke-width="0.85"/>
<line x1="502.1" y1="572.8" x2="506.3" y2="572.8" stroke="#3c3c3c" stroke-width="0.85"/>
<line x1="504.2" y1="570.7" x2="504.2" y2="574.9" stroke="#3c3c3c" stroke-width="0.85"/>
<text transform="translate(364,543.2) rotate(-90)" font-size="9.6" fill="#2e2e2e" stroke="#2e2e2e" stroke-width="0.32" textLength="42.6" lengthAdjust="spacingAndGlyphs">IL-2 pg/mL</text>
<text x="7.8" y="600.1" font-size="11.9" text-anchor="start" font-weight="bold" fill="#111" stroke="#111" stroke-width="0.22">C</text>
<line x1="67.5" y1="638.65" x2="67.5" y2="728.6" stroke="#484848" stroke-width="1.35"/>
<line x1="64.7" y1="641.25" x2="67.5" y2="641.25" stroke="#484848" stroke-width="1.1"/>
<text x="0" y="0" transform="translate(62.3,644.57) scale(1.04,1)" font-size="8.4" text-anchor="end" font-weight="normal" fill="#2e2e2e" stroke="#2e2e2e" stroke-width="0.22">100</text>
<line x1="64.7" y1="658.6" x2="67.5" y2="658.6" stroke="#484848" stroke-width="1.1"/>
<text x="0" y="0" transform="translate(62.3,661.92) scale(1.04,1)" font-size="8.4" text-anchor="end" font-weight="normal" fill="#2e2e2e" stroke="#2e2e2e" stroke-width="0.22">80</text>
<line x1="64.7" y1="675.95" x2="67.5" y2="675.95" stroke="#484848" stroke-width="1.1"/>
<text x="0" y="0" transform="translate(62.3,679.27) scale(1.04,1)" font-size="8.4" text-anchor="end" font-weight="normal" fill="#2e2e2e" stroke="#2e2e2e" stroke-width="0.22">60</text>
<line x1="64.7" y1="693.3" x2="67.5" y2="693.3" stroke="#484848" stroke-width="1.1"/>
<text x="0" y="0" transform="translate(62.3,696.62) scale(1.04,1)" font-size="8.4" text-anchor="end" font-weight="normal" fill="#2e2e2e" stroke="#2e2e2e" stroke-width="0.22">40</text>
<line x1="64.7" y1="710.65" x2="67.5" y2="710.65" stroke="#484848" stroke-width="1.1"/>
<text x="0" y="0" transform="translate(62.3,713.97) scale(1.04,1)" font-size="8.4" text-anchor="end" font-weight="normal" fill="#2e2e2e" stroke="#2e2e2e" stroke-width="0.22">20</text>
<line x1="64.7" y1="728" x2="67.5" y2="728" stroke="#484848" stroke-width="1.1"/>
<text x="0" y="0" transform="translate(62.3,731.32) scale(1.04,1)" font-size="8.4" text-anchor="end" font-weight="normal" fill="#2e2e2e" stroke="#2e2e2e" stroke-width="0.22">0</text>
<line x1="66.9" y1="728" x2="194" y2="728" stroke="#484848" stroke-width="1.35"/>
<line x1="83.8" y1="728" x2="83.8" y2="730.6" stroke="#484848" stroke-width="0.9"/>
<line x1="116.3" y1="728" x2="116.3" y2="730.6" stroke="#484848" stroke-width="0.9"/>
<line x1="148.8" y1="728" x2="148.8" y2="730.6" stroke="#484848" stroke-width="0.9"/>
<line x1="181.3" y1="728" x2="181.3" y2="730.6" stroke="#484848" stroke-width="0.9"/>
<line x1="77.4" y1="645.5" x2="77.4" y2="647.8" stroke="#333" stroke-width="1.3"/>
<line x1="74.9" y1="645.8" x2="79.9" y2="645.8" stroke="#333" stroke-width="1.3"/>
<rect x="73" y="647.5" width="8.8" height="80.5" fill="#1c1c1c"/>
<line x1="110.3" y1="654.5" x2="110.3" y2="660.8" stroke="#4d4d4d" stroke-width="1.3"/>
<line x1="107.8" y1="654.8" x2="112.8" y2="654.8" stroke="#4d4d4d" stroke-width="1.3"/>
<rect x="106.3" y="660.5" width="8" height="67.5" fill="#666666"/>
<line x1="122.15" y1="648" x2="122.15" y2="655.8" stroke="#4d4d4d" stroke-width="1.3"/>
<line x1="119.65" y1="648.3" x2="124.65" y2="648.3" stroke="#4d4d4d" stroke-width="1.3"/>
<rect x="118" y="655.5" width="8.3" height="72.5" fill="#666666"/>
<line x1="142.8" y1="663" x2="142.8" y2="667.3" stroke="#585858" stroke-width="1.3"/>
<line x1="140.3" y1="663.3" x2="145.3" y2="663.3" stroke="#585858" stroke-width="1.3"/>
<rect x="138.8" y="667" width="8" height="61" fill="#9a9a9a"/>
<line x1="154.8" y1="649.3" x2="154.8" y2="653.6" stroke="#585858" stroke-width="1.3"/>
<line x1="152.3" y1="649.6" x2="157.3" y2="649.6" stroke="#585858" stroke-width="1.3"/>
<rect x="150.8" y="653.3" width="8" height="74.7" fill="#9a9a9a"/>
<line x1="175.4" y1="655" x2="175.4" y2="661.1" stroke="#5e5e5e" stroke-width="1.3"/>
<line x1="172.9" y1="655.3" x2="177.9" y2="655.3" stroke="#5e5e5e" stroke-width="1.3"/>
<rect x="171.3" y="660.8" width="8.2" height="67.2" fill="#d2d2d2"/>
<line x1="187.3" y1="650.5" x2="187.3" y2="656.6" stroke="#5e5e5e" stroke-width="1.3"/>
<line x1="184.8" y1="650.8" x2="189.8" y2="650.8" stroke="#5e5e5e" stroke-width="1.3"/>
<rect x="183.3" y="656.3" width="8" height="71.7" fill="#d2d2d2"/>
<line x1="77.5" y1="616.3" x2="189.3" y2="616.3" stroke="#484848" stroke-width="1.2"/>
<line x1="77.5" y1="628.8" x2="153.8" y2="628.8" stroke="#484848" stroke-width="1.2"/>
<line x1="77.5" y1="641.3" x2="124.3" y2="641.3" stroke="#484848" stroke-width="1.2"/>
<text x="133" y="612.6" font-size="8.3" text-anchor="middle" font-weight="normal" fill="#2e2e2e" stroke="#2e2e2e" stroke-width="0.22">ns</text>
<text x="115.4" y="626.2" font-size="8.3" text-anchor="middle" font-weight="normal" fill="#2e2e2e" stroke="#2e2e2e" stroke-width="0.22">ns</text>
<text x="100" y="637.6" font-size="8.3" text-anchor="middle" font-weight="normal" fill="#2e2e2e" stroke="#2e2e2e" stroke-width="0.22">ns</text>
<text x="22.6" y="741.2" font-size="8.15" text-anchor="start" font-weight="normal" fill="#2e2e2e" stroke="#2e2e2e" stroke-width="0.22">Transwell</text>
<text x="22.6" y="753.4" font-size="8.15" text-anchor="start" font-weight="normal" fill="#2e2e2e" stroke="#2e2e2e" stroke-width="0.22">IL-10 blocking</text>
<line x1="108.3" y1="739" x2="112.5" y2="739" stroke="#3c3c3c" stroke-width="0.85"/>
<line x1="110.4" y1="736.9" x2="110.4" y2="741.1" stroke="#3c3c3c" stroke-width="0.85"/>
<line x1="109.2" y1="750.8" x2="111.6" y2="750.8" stroke="#3c3c3c" stroke-width="0.85"/>
<line x1="119.9" y1="739" x2="124.1" y2="739" stroke="#3c3c3c" stroke-width="0.85"/>
<line x1="122" y1="736.9" x2="122" y2="741.1" stroke="#3c3c3c" stroke-width="0.85"/>
<line x1="119.9" y1="750.8" x2="124.1" y2="750.8" stroke="#3c3c3c" stroke-width="0.85"/>
<line x1="122" y1="748.7" x2="122" y2="752.9" stroke="#3c3c3c" stroke-width="0.85"/>
<line x1="140.5" y1="739" x2="144.7" y2="739" stroke="#3c3c3c" stroke-width="0.85"/>
<line x1="142.6" y1="736.9" x2="142.6" y2="741.1" stroke="#3c3c3c" stroke-width="0.85"/>
<line x1="141.4" y1="750.8" x2="143.8" y2="750.8" stroke="#3c3c3c" stroke-width="0.85"/>
<line x1="152.5" y1="739" x2="156.7" y2="739" stroke="#3c3c3c" stroke-width="0.85"/>
<line x1="154.6" y1="736.9" x2="154.6" y2="741.1" stroke="#3c3c3c" stroke-width="0.85"/>
<line x1="152.5" y1="750.8" x2="156.7" y2="750.8" stroke="#3c3c3c" stroke-width="0.85"/>
<line x1="154.6" y1="748.7" x2="154.6" y2="752.9" stroke="#3c3c3c" stroke-width="0.85"/>
<line x1="172.9" y1="739" x2="177.1" y2="739" stroke="#3c3c3c" stroke-width="0.85"/>
<line x1="175" y1="736.9" x2="175" y2="741.1" stroke="#3c3c3c" stroke-width="0.85"/>
<line x1="173.8" y1="750.8" x2="176.2" y2="750.8" stroke="#3c3c3c" stroke-width="0.85"/>
<line x1="184.9" y1="739" x2="189.1" y2="739" stroke="#3c3c3c" stroke-width="0.85"/>
<line x1="187" y1="736.9" x2="187" y2="741.1" stroke="#3c3c3c" stroke-width="0.85"/>
<line x1="184.9" y1="750.8" x2="189.1" y2="750.8" stroke="#3c3c3c" stroke-width="0.85"/>
<line x1="187" y1="748.7" x2="187" y2="752.9" stroke="#3c3c3c" stroke-width="0.85"/>
<text transform="translate(30.2,715.2) rotate(-90)" font-size="9.3" fill="#2e2e2e" stroke="#2e2e2e" stroke-width="0.25" textLength="65" lengthAdjust="spacingAndGlyphs">% of CD4+ T cell</text>
<text transform="translate(42.2,706) rotate(-90)" font-size="9.3" fill="#2e2e2e" stroke="#2e2e2e" stroke-width="0.25" textLength="46.4" lengthAdjust="spacingAndGlyphs">proliferation</text>
<rect x="209.8" y="629.5" width="10" height="4.8" fill="#1c1c1c"/>
<text x="223" y="634.6" font-size="7.6" text-anchor="start" font-weight="normal" fill="#2e2e2e" stroke="#2e2e2e" stroke-width="0.22">Positive control</text>
<rect x="209.8" y="638.4" width="10" height="4.8" fill="#666666"/>
<text x="223" y="643.5" font-size="7.6" text-anchor="start" font-weight="normal" fill="#2e2e2e" stroke="#2e2e2e" stroke-width="0.22">Total B cells</text>
<rect x="209.8" y="647.5" width="10" height="4.8" fill="#9a9a9a"/>
<text x="223" y="652.6" font-size="7.6" text-anchor="start" font-weight="normal" fill="#2e2e2e" stroke="#2e2e2e" stroke-width="0.22">Transitional B cells</text>
<rect x="209.8" y="656.5" width="10" height="4.8" fill="#d2d2d2"/>
<text x="223" y="661.6" font-size="7.6" text-anchor="start" font-weight="normal" fill="#2e2e2e" stroke="#2e2e2e" stroke-width="0.22">Na&#239;ve B cells</text>
<text x="7.4" y="780.8" font-size="11.9" text-anchor="start" font-weight="bold" fill="#111" stroke="#111" stroke-width="0.22">D</text>
<rect x="65" y="788.3" width="9.2" height="4.3" fill="#1c1c1c"/>
<text x="77" y="793.2" font-size="7.6" text-anchor="start" font-weight="normal" fill="#2e2e2e" stroke="#2e2e2e" stroke-width="0.22">positive</text>
<rect x="118.8" y="788.3" width="9.2" height="4.3" fill="#666666"/>
<text x="131.2" y="793.2" font-size="7.6" text-anchor="start" font-weight="normal" fill="#2e2e2e" stroke="#2e2e2e" stroke-width="0.22">CD19+ cells</text>
<rect x="190.4" y="788.3" width="9.2" height="4.3" fill="#9a9a9a"/>
<text x="202.2" y="793.2" font-size="7.6" text-anchor="start" font-weight="normal" fill="#2e2e2e" stroke="#2e2e2e" stroke-width="0.22">Transitional</text>
<rect x="257.8" y="788.3" width="9.2" height="4.3" fill="#d2d2d2"/>
<text x="269.9" y="793.2" font-size="7.6" text-anchor="start" font-weight="normal" fill="#2e2e2e" stroke="#2e2e2e" stroke-width="0.22">Naive</text>
<line x1="57" y1="819.6" x2="57" y2="897.8" stroke="#484848" stroke-width="1.35"/>
<line x1="54.2" y1="822.2" x2="57" y2="822.2" stroke="#484848" stroke-width="1.1"/>
<text x="0" y="0" transform="translate(50.4,825.49) scale(0.93,1)" font-size="8.3" text-anchor="end" font-weight="normal" fill="#2e2e2e" stroke="#2e2e2e" stroke-width="0.22">1500</text>
<line x1="54.2" y1="847.2" x2="57" y2="847.2" stroke="#484848" stroke-width="1.1"/>
<text x="0" y="0" transform="translate(50.4,850.49) scale(0.93,1)" font-size="8.3" text-anchor="end" font-weight="normal" fill="#2e2e2e" stroke="#2e2e2e" stroke-width="0.22">1000</text>
<line x1="54.2" y1="872.2" x2="57" y2="872.2" stroke="#484848" stroke-width="1.1"/>
<text x="0" y="0" transform="translate(50.4,875.49) scale(0.93,1)" font-size="8.3" text-anchor="end" font-weight="normal" fill="#2e2e2e" stroke="#2e2e2e" stroke-width="0.22">500</text>
<line x1="54.2" y1="897.2" x2="57" y2="897.2" stroke="#484848" stroke-width="1.1"/>
<text x="0" y="0" transform="translate(50.4,900.49) scale(0.93,1)" font-size="8.3" text-anchor="end" font-weight="normal" fill="#2e2e2e" stroke="#2e2e2e" stroke-width="0.22">0</text>
<line x1="56.4" y1="897.2" x2="168.8" y2="897.2" stroke="#484848" stroke-width="1.35"/>
<line x1="72" y1="897.2" x2="72" y2="899.8" stroke="#484848" stroke-width="0.9"/>
<line x1="99.6" y1="897.2" x2="99.6" y2="899.8" stroke="#484848" stroke-width="0.9"/>
<line x1="127.4" y1="897.2" x2="127.4" y2="899.8" stroke="#484848" stroke-width="0.9"/>
<line x1="155.4" y1="897.2" x2="155.4" y2="899.8" stroke="#484848" stroke-width="0.9"/>
<line x1="66" y1="843.3" x2="66" y2="845.3" stroke="#333" stroke-width="1.3"/>
<line x1="63.8" y1="843.6" x2="68.2" y2="843.6" stroke="#333" stroke-width="1.3"/>
<rect x="62" y="845" width="8" height="52.2" fill="#1c1c1c"/>
<line x1="94.25" y1="853" x2="94.25" y2="857.1" stroke="#4d4d4d" stroke-width="1.3"/>
<line x1="92.05" y1="853.3" x2="96.45" y2="853.3" stroke="#4d4d4d" stroke-width="1.3"/>
<rect x="90.5" y="856.8" width="7.5" height="40.4" fill="#666666"/>
<line x1="104.55" y1="843.8" x2="104.55" y2="847.8" stroke="#4d4d4d" stroke-width="1.3"/>
<line x1="102.35" y1="844.1" x2="106.75" y2="844.1" stroke="#4d4d4d" stroke-width="1.3"/>
<rect x="100.8" y="847.5" width="7.5" height="49.7" fill="#666666"/>
<line x1="122.05" y1="856.3" x2="122.05" y2="859.8" stroke="#585858" stroke-width="1.3"/>
<line x1="119.85" y1="856.6" x2="124.25" y2="856.6" stroke="#585858" stroke-width="1.3"/>
<rect x="118.3" y="859.5" width="7.5" height="37.7" fill="#9a9a9a"/>
<line x1="132.55" y1="845" x2="132.55" y2="849.6" stroke="#585858" stroke-width="1.3"/>
<line x1="130.35" y1="845.3" x2="134.75" y2="845.3" stroke="#585858" stroke-width="1.3"/>
<rect x="128.8" y="849.3" width="7.5" height="47.9" fill="#9a9a9a"/>
<line x1="150.05" y1="852.5" x2="150.05" y2="858.6" stroke="#5e5e5e" stroke-width="1.3"/>
<line x1="147.85" y1="852.8" x2="152.25" y2="852.8" stroke="#5e5e5e" stroke-width="1.3"/>
<rect x="146.3" y="858.3" width="7.5" height="38.9" fill="#d2d2d2"/>
<line x1="160.55" y1="844.5" x2="160.55" y2="846.6" stroke="#5e5e5e" stroke-width="1.3"/>
<line x1="158.35" y1="844.8" x2="162.75" y2="844.8" stroke="#5e5e5e" stroke-width="1.3"/>
<rect x="156.8" y="846.3" width="7.5" height="50.9" fill="#d2d2d2"/>
<line x1="65.5" y1="808.3" x2="158.8" y2="808.3" stroke="#484848" stroke-width="1.2"/>
<line x1="65.5" y1="819.3" x2="131.3" y2="819.3" stroke="#484848" stroke-width="1.2"/>
<line x1="65.5" y1="830.8" x2="105" y2="830.8" stroke="#484848" stroke-width="1.2"/>
<text x="112" y="804.4" font-size="8.3" text-anchor="middle" font-weight="normal" fill="#2e2e2e" stroke="#2e2e2e" stroke-width="0.22">ns</text>
<text x="98.8" y="816" font-size="8.3" text-anchor="middle" font-weight="normal" fill="#2e2e2e" stroke="#2e2e2e" stroke-width="0.22">ns</text>
<text x="85" y="826.6" font-size="8.3" text-anchor="middle" font-weight="normal" fill="#2e2e2e" stroke="#2e2e2e" stroke-width="0.22">ns</text>
<text x="28.6" y="910.3" font-size="8.15" text-anchor="start" font-weight="normal" fill="#2e2e2e" stroke="#2e2e2e" stroke-width="0.22">Transwell</text>
<text x="28.6" y="922" font-size="8.15" text-anchor="start" font-weight="normal" fill="#2e2e2e" stroke="#2e2e2e" stroke-width="0.22">IL-10 blocking</text>
<line x1="91.9" y1="908.2" x2="96.1" y2="908.2" stroke="#3c3c3c" stroke-width="0.85"/>
<line x1="94" y1="906.1" x2="94" y2="910.3" stroke="#3c3c3c" stroke-width="0.85"/>
<line x1="92.8" y1="919.6" x2="95.2" y2="919.6" stroke="#3c3c3c" stroke-width="0.85"/>
<line x1="102.3" y1="908.2" x2="106.5" y2="908.2" stroke="#3c3c3c" stroke-width="0.85"/>
<line x1="104.4" y1="906.1" x2="104.4" y2="910.3" stroke="#3c3c3c" stroke-width="0.85"/>
<line x1="102.3" y1="919.6" x2="106.5" y2="919.6" stroke="#3c3c3c" stroke-width="0.85"/>
<line x1="104.4" y1="917.5" x2="104.4" y2="921.7" stroke="#3c3c3c" stroke-width="0.85"/>
<line x1="119.7" y1="908.2" x2="123.9" y2="908.2" stroke="#3c3c3c" stroke-width="0.85"/>
<line x1="121.8" y1="906.1" x2="121.8" y2="910.3" stroke="#3c3c3c" stroke-width="0.85"/>
<line x1="120.6" y1="919.6" x2="123" y2="919.6" stroke="#3c3c3c" stroke-width="0.85"/>
<line x1="130.4" y1="908.2" x2="134.6" y2="908.2" stroke="#3c3c3c" stroke-width="0.85"/>
<line x1="132.5" y1="906.1" x2="132.5" y2="910.3" stroke="#3c3c3c" stroke-width="0.85"/>
<line x1="130.4" y1="919.6" x2="134.6" y2="919.6" stroke="#3c3c3c" stroke-width="0.85"/>
<line x1="132.5" y1="917.5" x2="132.5" y2="921.7" stroke="#3c3c3c" stroke-width="0.85"/>
<line x1="147.9" y1="908.2" x2="152.1" y2="908.2" stroke="#3c3c3c" stroke-width="0.85"/>
<line x1="150" y1="906.1" x2="150" y2="910.3" stroke="#3c3c3c" stroke-width="0.85"/>
<line x1="148.8" y1="919.6" x2="151.2" y2="919.6" stroke="#3c3c3c" stroke-width="0.85"/>
<line x1="158.4" y1="908.2" x2="162.6" y2="908.2" stroke="#3c3c3c" stroke-width="0.85"/>
<line x1="160.5" y1="906.1" x2="160.5" y2="910.3" stroke="#3c3c3c" stroke-width="0.85"/>
<line x1="158.4" y1="919.6" x2="162.6" y2="919.6" stroke="#3c3c3c" stroke-width="0.85"/>
<line x1="160.5" y1="917.5" x2="160.5" y2="921.7" stroke="#3c3c3c" stroke-width="0.85"/>
<text transform="translate(26.0,881.8) rotate(-90)" font-size="9.6" fill="#2e2e2e" stroke="#2e2e2e" stroke-width="0.32" textLength="48" lengthAdjust="spacingAndGlyphs">IFN-&#947; pg/mL</text>
<line x1="227.4" y1="819.6" x2="227.4" y2="897.8" stroke="#484848" stroke-width="1.35"/>
<line x1="224.6" y1="822.2" x2="227.4" y2="822.2" stroke="#484848" stroke-width="1.1"/>
<text x="0" y="0" transform="translate(220,825.49) scale(0.93,1)" font-size="8.3" text-anchor="end" font-weight="normal" fill="#2e2e2e" stroke="#2e2e2e" stroke-width="0.22">15000</text>
<line x1="224.6" y1="847.2" x2="227.4" y2="847.2" stroke="#484848" stroke-width="1.1"/>
<text x="0" y="0" transform="translate(220,850.49) scale(0.93,1)" font-size="8.3" text-anchor="end" font-weight="normal" fill="#2e2e2e" stroke="#2e2e2e" stroke-width="0.22">10000</text>
<line x1="224.6" y1="872.2" x2="227.4" y2="872.2" stroke="#484848" stroke-width="1.1"/>
<text x="0" y="0" transform="translate(220,875.49) scale(0.93,1)" font-size="8.3" text-anchor="end" font-weight="normal" fill="#2e2e2e" stroke="#2e2e2e" stroke-width="0.22">5000</text>
<line x1="224.6" y1="897.2" x2="227.4" y2="897.2" stroke="#484848" stroke-width="1.1"/>
<text x="0" y="0" transform="translate(220,900.49) scale(0.93,1)" font-size="8.3" text-anchor="end" font-weight="normal" fill="#2e2e2e" stroke="#2e2e2e" stroke-width="0.22">0</text>
<line x1="226.8" y1="897.2" x2="339.2" y2="897.2" stroke="#484848" stroke-width="1.35"/>
<line x1="242" y1="897.2" x2="242" y2="899.8" stroke="#484848" stroke-width="0.9"/>
<line x1="269.2" y1="897.2" x2="269.2" y2="899.8" stroke="#484848" stroke-width="0.9"/>
<line x1="297.4" y1="897.2" x2="297.4" y2="899.8" stroke="#484848" stroke-width="0.9"/>
<line x1="325.6" y1="897.2" x2="325.6" y2="899.8" stroke="#484848" stroke-width="0.9"/>
<rect x="232.3" y="847.3" width="7.5" height="49.9" fill="#1c1c1c"/>
<line x1="263.85" y1="853.8" x2="263.85" y2="857.4" stroke="#4d4d4d" stroke-width="1.3"/>
<line x1="261.65" y1="854.1" x2="266.05" y2="854.1" stroke="#4d4d4d" stroke-width="1.3"/>
<rect x="260.1" y="857.1" width="7.5" height="40.1" fill="#666666"/>
<line x1="274.35" y1="848.3" x2="274.35" y2="849.2" stroke="#4d4d4d" stroke-width="1.3"/>
<line x1="272.15" y1="848.6" x2="276.55" y2="848.6" stroke="#4d4d4d" stroke-width="1.3"/>
<rect x="270.6" y="848.9" width="7.5" height="48.3" fill="#666666"/>
<line x1="292.25" y1="858.7" x2="292.25" y2="862.3" stroke="#585858" stroke-width="1.3"/>
<line x1="290.05" y1="859" x2="294.45" y2="859" stroke="#585858" stroke-width="1.3"/>
<rect x="288.5" y="862" width="7.5" height="35.2" fill="#9a9a9a"/>
<line x1="302.6" y1="850.6" x2="302.6" y2="853.5" stroke="#585858" stroke-width="1.3"/>
<line x1="300.4" y1="850.9" x2="304.8" y2="850.9" stroke="#585858" stroke-width="1.3"/>
<rect x="298.7" y="853.2" width="7.8" height="44" fill="#9a9a9a"/>
<line x1="320.4" y1="854.1" x2="320.4" y2="857.4" stroke="#5e5e5e" stroke-width="1.3"/>
<line x1="318.2" y1="854.4" x2="322.6" y2="854.4" stroke="#5e5e5e" stroke-width="1.3"/>
<rect x="316.6" y="857.1" width="7.6" height="40.1" fill="#d2d2d2"/>
<line x1="330.85" y1="848.3" x2="330.85" y2="850.9" stroke="#5e5e5e" stroke-width="1.3"/>
<line x1="328.65" y1="848.6" x2="333.05" y2="848.6" stroke="#5e5e5e" stroke-width="1.3"/>
<rect x="327.1" y="850.6" width="7.5" height="46.6" fill="#d2d2d2"/>
<line x1="237.2" y1="814.9" x2="329.7" y2="814.9" stroke="#484848" stroke-width="1.2"/>
<line x1="237.2" y1="825.4" x2="302.6" y2="825.4" stroke="#484848" stroke-width="1.2"/>
<line x1="237.2" y1="836.8" x2="276.4" y2="836.8" stroke="#484848" stroke-width="1.2"/>
<text x="283.6" y="811.8" font-size="8.3" text-anchor="middle" font-weight="normal" fill="#2e2e2e" stroke="#2e2e2e" stroke-width="0.22">ns</text>
<text x="269.9" y="822.6" font-size="8.3" text-anchor="middle" font-weight="normal" fill="#2e2e2e" stroke="#2e2e2e" stroke-width="0.22">ns</text>
<text x="256.8" y="833.2" font-size="8.3" text-anchor="middle" font-weight="normal" fill="#2e2e2e" stroke="#2e2e2e" stroke-width="0.22">ns</text>
<line x1="261.9" y1="908.2" x2="266.1" y2="908.2" stroke="#3c3c3c" stroke-width="0.85"/>
<line x1="264" y1="906.1" x2="264" y2="910.3" stroke="#3c3c3c" stroke-width="0.85"/>
<line x1="262.8" y1="919.6" x2="265.2" y2="919.6" stroke="#3c3c3c" stroke-width="0.85"/>
<line x1="272.1" y1="908.2" x2="276.3" y2="908.2" stroke="#3c3c3c" stroke-width="0.85"/>
<line x1="274.2" y1="906.1" x2="274.2" y2="910.3" stroke="#3c3c3c" stroke-width="0.85"/>
<line x1="272.1" y1="919.6" x2="276.3" y2="919.6" stroke="#3c3c3c" stroke-width="0.85"/>
<line x1="274.2" y1="917.5" x2="274.2" y2="921.7" stroke="#3c3c3c" stroke-width="0.85"/>
<line x1="290.1" y1="908.2" x2="294.3" y2="908.2" stroke="#3c3c3c" stroke-width="0.85"/>
<line x1="292.2" y1="906.1" x2="292.2" y2="910.3" stroke="#3c3c3c" stroke-width="0.85"/>
<line x1="291" y1="919.6" x2="293.4" y2="919.6" stroke="#3c3c3c" stroke-width="0.85"/>
<line x1="300.5" y1="908.2" x2="304.7" y2="908.2" stroke="#3c3c3c" stroke-width="0.85"/>
<line x1="302.6" y1="906.1" x2="302.6" y2="910.3" stroke="#3c3c3c" stroke-width="0.85"/>
<line x1="300.5" y1="919.6" x2="304.7" y2="919.6" stroke="#3c3c3c" stroke-width="0.85"/>
<line x1="302.6" y1="917.5" x2="302.6" y2="921.7" stroke="#3c3c3c" stroke-width="0.85"/>
<line x1="318.5" y1="908.2" x2="322.7" y2="908.2" stroke="#3c3c3c" stroke-width="0.85"/>
<line x1="320.6" y1="906.1" x2="320.6" y2="910.3" stroke="#3c3c3c" stroke-width="0.85"/>
<line x1="319.4" y1="919.6" x2="321.8" y2="919.6" stroke="#3c3c3c" stroke-width="0.85"/>
<line x1="328.7" y1="908.2" x2="332.9" y2="908.2" stroke="#3c3c3c" stroke-width="0.85"/>
<line x1="330.8" y1="906.1" x2="330.8" y2="910.3" stroke="#3c3c3c" stroke-width="0.85"/>
<line x1="328.7" y1="919.6" x2="332.9" y2="919.6" stroke="#3c3c3c" stroke-width="0.85"/>
<line x1="330.8" y1="917.5" x2="330.8" y2="921.7" stroke="#3c3c3c" stroke-width="0.85"/>
<text transform="translate(192,883.8) rotate(-90)" font-size="9.6" fill="#2e2e2e" stroke="#2e2e2e" stroke-width="0.32" textLength="51" lengthAdjust="spacingAndGlyphs">TNF-&#945; pg/mL</text>
</g>
<rect x="0.5" y="0.5" width="519" height="930" fill="none" stroke="#5a5a5a" stroke-width="1"/>
</svg>
</body></html>
